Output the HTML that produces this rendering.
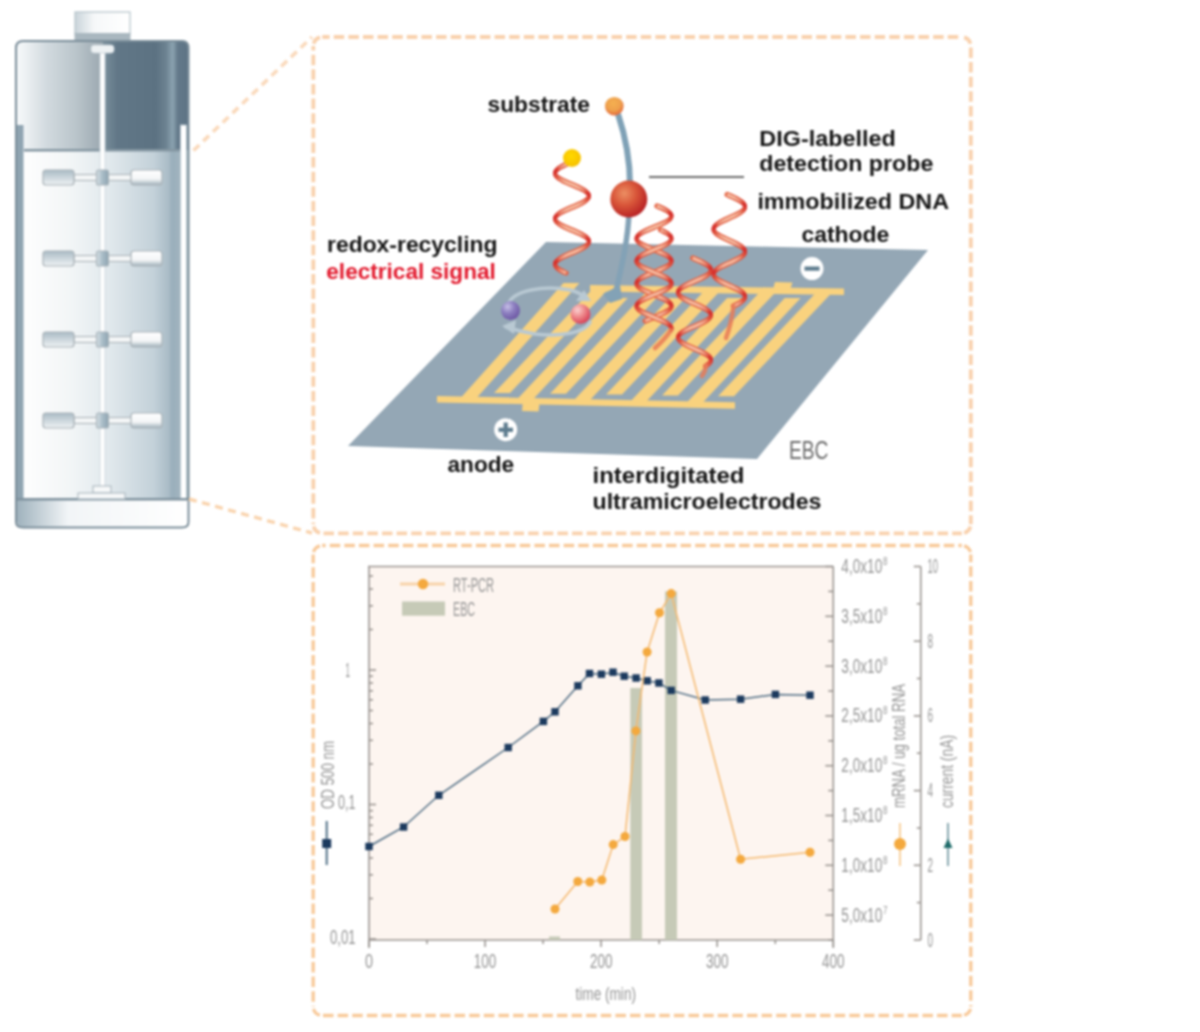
<!DOCTYPE html>
<html><head><meta charset="utf-8"><style>
html,body{margin:0;padding:0;background:#fff;}
body{width:1200px;height:1032px;overflow:hidden;}
svg{display:block;}
#wrap{filter:blur(1px);width:1200px;height:1032px;}
text{font-family:"Liberation Sans",sans-serif;}
</style></head><body><div id="wrap">
<svg width="1200" height="1032" viewBox="0 0 1200 1032">
<defs>
<linearGradient id="headL" x1="0" x2="1" y1="0" y2="0">
 <stop offset="0" stop-color="#f7f9fa"/><stop offset="0.1" stop-color="#eef2f4"/><stop offset="0.35" stop-color="#d2dadf"/><stop offset="0.7" stop-color="#b9c4ca"/><stop offset="1" stop-color="#9aa7af"/>
</linearGradient>
<linearGradient id="headR" x1="0" x2="1" y1="0" y2="0">
 <stop offset="0" stop-color="#7a8f9c"/><stop offset="0.17" stop-color="#617787"/><stop offset="0.62" stop-color="#5c7282"/><stop offset="0.74" stop-color="#6c8291"/><stop offset="0.82" stop-color="#8ba3b0"/><stop offset="0.88" stop-color="#63798a"/><stop offset="1" stop-color="#5d7384"/>
</linearGradient>
<linearGradient id="liq" x1="0" x2="1" y1="0" y2="0">
 <stop offset="0" stop-color="#ffffff"/><stop offset="0.3" stop-color="#f3f6f7"/><stop offset="0.55" stop-color="#e0e8ec"/><stop offset="0.8" stop-color="#c3d1d9"/><stop offset="0.93" stop-color="#9db1bd"/><stop offset="1" stop-color="#a9bbc6"/>
</linearGradient>
<linearGradient id="base" x1="0" x2="1" y1="0" y2="0">
 <stop offset="0" stop-color="#9fb2bd"/><stop offset="0.3" stop-color="#f2f5f7"/><stop offset="1" stop-color="#ffffff"/>
</linearGradient>
<linearGradient id="cap" x1="0" x2="1" y1="0" y2="0">
 <stop offset="0" stop-color="#c9d4da"/><stop offset="0.35" stop-color="#f6f8f9"/><stop offset="1" stop-color="#ffffff"/>
</linearGradient>
<linearGradient id="bladeL" x1="0" x2="0" y1="0" y2="1">
 <stop offset="0" stop-color="#a9bac4"/><stop offset="1" stop-color="#eef2f4"/>
</linearGradient>
<linearGradient id="bladeR" x1="0" x2="0" y1="0" y2="1">
 <stop offset="0" stop-color="#ffffff"/><stop offset="0.6" stop-color="#f4f6f7"/><stop offset="1" stop-color="#9fb0ba"/>
</linearGradient>
<linearGradient id="hub" x1="0" x2="1" y1="0" y2="0">
 <stop offset="0" stop-color="#d5dfe4"/><stop offset="0.5" stop-color="#a9bcc7"/><stop offset="1" stop-color="#8ea4b1"/>
</linearGradient>
<radialGradient id="redball" cx="0.38" cy="0.35" r="0.7">
 <stop offset="0" stop-color="#ec8f63"/><stop offset="0.45" stop-color="#d9573a"/><stop offset="1" stop-color="#b51d22"/>
</radialGradient>
<radialGradient id="subball" cx="0.45" cy="0.35" r="0.65">
 <stop offset="0" stop-color="#f5b050"/><stop offset="0.6" stop-color="#eea04c"/><stop offset="1" stop-color="#e4683c"/>
</radialGradient>
<radialGradient id="yball" cx="0.45" cy="0.4" r="0.6">
 <stop offset="0" stop-color="#ffd800"/><stop offset="1" stop-color="#f7c100"/>
</radialGradient>
<radialGradient id="pball" cx="0.35" cy="0.3" r="0.7">
 <stop offset="0" stop-color="#c6c0e6"/><stop offset="0.5" stop-color="#8d7fc0"/><stop offset="1" stop-color="#6f5aa6"/>
</radialGradient>
<radialGradient id="kball" cx="0.35" cy="0.3" r="0.7">
 <stop offset="0" stop-color="#fbd0d0"/><stop offset="0.5" stop-color="#ee8a8c"/><stop offset="1" stop-color="#d9455a"/>
</radialGradient>
</defs>

<g id="vessel">
<rect x="75" y="12" width="55" height="22" fill="url(#cap)" stroke="#b9c6cd" stroke-width="1.3"/>
<rect x="74.5" y="33" width="56" height="7.5" fill="#a9b7bf"/>
<path d="M16,48 Q16,41 23,41 L103,41 L103,151 L16,151 Z" fill="url(#headL)"/>
<path d="M103,41 L181,41 Q188,41 188,48 L188,151 L103,151 Z" fill="url(#headR)"/>
<rect x="17" y="150" width="171" height="350" fill="url(#liq)"/>
<rect x="170" y="150" width="5" height="350" fill="#8fa7b4" opacity="0.35"/>
<rect x="24" y="149" width="157" height="2.5" fill="#8496a1"/>
<rect x="16.5" y="125" width="7" height="375" fill="#8fa4b1"/>
<rect x="180.5" y="125" width="6" height="375" fill="#ffffff" stroke="#b7c5cd" stroke-width="0.8"/>
<path d="M17,499 L188,499 L188,521 Q188,527 182,527 L23,527 Q17,527 17,521 Z" fill="url(#base)"/>
<rect x="17" y="498" width="171" height="2.5" fill="#7f929e"/>
<path d="M16,522 L16,48 Q16,41 23,41 L182,41 Q188.5,41 188.5,48 L188.5,522 Q188.5,527.5 182,527.5 L23,527.5 Q16,527.5 16,522 Z" fill="none" stroke="#7a8d99" stroke-width="2"/>
<rect x="100" y="46" width="5" height="442" fill="#ffffff" stroke="#c9d3d9" stroke-width="0.8"/>
<rect x="91" y="45" width="23" height="8" rx="3" fill="#eef2f4" stroke="#c7d1d7" stroke-width="0.8"/>
<rect x="93" y="486" width="18" height="7" fill="#f6f8f9" stroke="#a5b2ba" stroke-width="1"/>
<rect x="78" y="493" width="47" height="6" fill="#f6f8f9" stroke="#a5b2ba" stroke-width="1"/>
<rect x="74" y="174.5" width="58" height="6" fill="#f4f6f7" stroke="#aeb6bb" stroke-width="1.1"/>
<rect x="43" y="170.0" width="31" height="15" rx="3" fill="url(#bladeL)" stroke="#a9b2b7" stroke-width="1.2"/>
<rect x="131" y="170.0" width="31" height="15" rx="3" fill="url(#bladeR)" stroke="#a9b2b7" stroke-width="1.2"/>
<rect x="96.5" y="170.0" width="12" height="15" rx="2" fill="url(#hub)" stroke="#a9b4ba" stroke-width="1.1"/>
<rect x="74" y="255.5" width="58" height="6" fill="#f4f6f7" stroke="#aeb6bb" stroke-width="1.1"/>
<rect x="43" y="251.0" width="31" height="15" rx="3" fill="url(#bladeL)" stroke="#a9b2b7" stroke-width="1.2"/>
<rect x="131" y="251.0" width="31" height="15" rx="3" fill="url(#bladeR)" stroke="#a9b2b7" stroke-width="1.2"/>
<rect x="96.5" y="251.0" width="12" height="15" rx="2" fill="url(#hub)" stroke="#a9b4ba" stroke-width="1.1"/>
<rect x="74" y="336.5" width="58" height="6" fill="#f4f6f7" stroke="#aeb6bb" stroke-width="1.1"/>
<rect x="43" y="332.0" width="31" height="15" rx="3" fill="url(#bladeL)" stroke="#a9b2b7" stroke-width="1.2"/>
<rect x="131" y="332.0" width="31" height="15" rx="3" fill="url(#bladeR)" stroke="#a9b2b7" stroke-width="1.2"/>
<rect x="96.5" y="332.0" width="12" height="15" rx="2" fill="url(#hub)" stroke="#a9b4ba" stroke-width="1.1"/>
<rect x="74" y="417.5" width="58" height="6" fill="#f4f6f7" stroke="#aeb6bb" stroke-width="1.1"/>
<rect x="43" y="413.0" width="31" height="15" rx="3" fill="url(#bladeL)" stroke="#a9b2b7" stroke-width="1.2"/>
<rect x="131" y="413.0" width="31" height="15" rx="3" fill="url(#bladeR)" stroke="#a9b2b7" stroke-width="1.2"/>
<rect x="96.5" y="413.0" width="12" height="15" rx="2" fill="url(#hub)" stroke="#a9b4ba" stroke-width="1.1"/>
</g>
<g fill="none" stroke-linecap="butt">
<line x1="193.5" y1="150.5" x2="312" y2="37" stroke="#fad9bb" stroke-width="3.6" stroke-dasharray="8 5.5"/>
<line x1="189" y1="499" x2="312" y2="533" stroke="#f9d3ad" stroke-width="3.4" stroke-dasharray="8 5.5"/>
<line x1="322.3" y1="37.0" x2="961.8" y2="37.0" stroke="#f9d1ad" stroke-width="3.8" stroke-dasharray="10.5 4.12" stroke-dashoffset="3.20"/>
<line x1="970.8" y1="46.0" x2="970.8" y2="524.3" stroke="#f9d1ad" stroke-width="3.8" stroke-dasharray="10.5 4.12" stroke-dashoffset="13.12"/>
<line x1="322.3" y1="533.3" x2="961.8" y2="533.3" stroke="#f9d1ad" stroke-width="3.8" stroke-dasharray="10.5 4.12" stroke-dashoffset="13.42"/>
<line x1="313.3" y1="46.0" x2="313.3" y2="524.3" stroke="#f9d1ad" stroke-width="3.8" stroke-dasharray="10.5 4.12" stroke-dashoffset="5.92"/>
<path d="M313.6,43.7 A9.0,9.0 0 0 1 320.0,37.3" stroke="#f9d1ad" stroke-width="3.8"/>
<path d="M964.1,37.3 A9.0,9.0 0 0 1 970.5,43.7" stroke="#f9d1ad" stroke-width="3.8"/>
<path d="M970.5,526.6 A9.0,9.0 0 0 1 964.1,533.0" stroke="#f9d1ad" stroke-width="3.8"/>
<path d="M320.0,533.0 A9.0,9.0 0 0 1 313.6,526.6" stroke="#f9d1ad" stroke-width="3.8"/>
<line x1="322.2" y1="545.5" x2="961.8" y2="545.5" stroke="#f8c999" stroke-width="3.3" stroke-dasharray="10.5 4.12" stroke-dashoffset="7.10"/>
<line x1="970.8" y1="554.5" x2="970.8" y2="1006.5" stroke="#f8c999" stroke-width="3.3" stroke-dasharray="10.5 4.12" stroke-dashoffset="2.80"/>
<line x1="322.2" y1="1015.5" x2="961.8" y2="1015.5" stroke="#f8c999" stroke-width="3.3" stroke-dasharray="10.5 4.12" stroke-dashoffset="13.82"/>
<line x1="313.2" y1="554.5" x2="313.2" y2="1006.5" stroke="#f8c999" stroke-width="3.3" stroke-dasharray="10.5 4.12" stroke-dashoffset="1.86"/>
<path d="M313.5,552.2 A9.0,9.0 0 0 1 319.9,545.8" stroke="#f8c999" stroke-width="3.3"/>
<path d="M964.1,545.8 A9.0,9.0 0 0 1 970.5,552.2" stroke="#f8c999" stroke-width="3.3"/>
<path d="M970.5,1008.8 A9.0,9.0 0 0 1 964.1,1015.2" stroke="#f8c999" stroke-width="3.3"/>
<path d="M319.9,1015.2 A9.0,9.0 0 0 1 313.5,1008.8" stroke="#f8c999" stroke-width="3.3"/>
</g>
<polygon points="546,242 928,250 757,459 348,446" fill="#94a7b5"/>
<g fill="#f9d27e">
<polygon points="437,396 735,402.3 735,408.7 437,402.4"/>
<polygon points="523,399 540,399.5 538.5,411.5 522,411"/>
<polygon points="590,285 844,288.5 844,295 590,291.5"/>
<polygon points="775,282 792.5,282.5 790,290 773,289.5"/>
<polygon points="459.0,399.8 475.0,399.8 579.5,283.0 563.5,283.0"/>
<polygon points="515.5,401.0 531.5,401.0 627.8,298.0 611.8,298.0"/>
<polygon points="572.0,402.2 588.0,402.2 685.4,298.0 669.4,298.0"/>
<polygon points="628.5,403.4 644.5,403.4 743.1,298.0 727.1,298.0"/>
<polygon points="685.0,404.6 701.0,404.6 800.7,298.0 784.7,298.0"/>
<polygon points="494.0,393.0 510.0,393.0 609.0,288.4 593.0,288.4"/>
<polygon points="550.0,393.8 566.0,393.8 665.0,289.1 649.0,289.1"/>
<polygon points="606.0,394.6 622.0,394.6 721.0,289.9 705.0,289.9"/>
<polygon points="662.0,395.4 678.0,395.4 777.0,290.7 761.0,290.7"/>
<polygon points="718.0,396.2 734.0,396.2 833.0,291.4 817.0,291.4"/>
</g>
<g fill="none" stroke="#b9c9d3" stroke-width="3.5" stroke-linecap="round">
<path d="M508,305 C512,290 545,285 570,290 C578,292 583,295 586,298"/>
<path d="M590,322 C585,333 560,337 535,334 C522,332 512,329 506,327"/>
</g>
<polygon points="591,301 576,301 584,290" fill="#b9c9d3"/>
<polygon points="502,326 516,320 514,334" fill="#b9c9d3"/>
<circle cx="510.5" cy="310.5" r="9.5" fill="url(#pball)"/>
<circle cx="580.5" cy="314" r="10" fill="url(#kball)"/>
<circle cx="505.7" cy="429.7" r="11.5" fill="#ffffff"/>
<rect x="498.5" y="427.7" width="14.5" height="4.2" fill="#5f7d8f"/>
<rect x="503.6" y="422.5" width="4.2" height="14.5" fill="#5f7d8f"/>
<circle cx="812" cy="268.6" r="11.5" fill="#ffffff"/>
<rect x="804.5" y="266.5" width="15" height="4.2" fill="#5f7d8f"/>
<path d="M618,114 C625,135 630,160 630,185" fill="none" stroke="#7fa1b6" stroke-width="6"/>
<path d="M629,212 C628,240 622,265 616,291" fill="none" stroke="#83a2b6" stroke-width="5.5"/>
<polygon points="603,294 620,285 622,299 610,303" fill="#83a2b6"/>
<line x1="567.1" y1="164.0" x2="564.4" y2="165.2" stroke="#e46548" stroke-width="5.3" stroke-linecap="round"/>
<line x1="564.4" y1="165.2" x2="562.0" y2="166.4" stroke="#e26145" stroke-width="5.2" stroke-linecap="round"/>
<line x1="562.0" y1="166.4" x2="559.9" y2="167.6" stroke="#e15a42" stroke-width="5.0" stroke-linecap="round"/>
<line x1="559.9" y1="167.6" x2="558.1" y2="168.8" stroke="#df533e" stroke-width="4.8" stroke-linecap="round"/>
<line x1="558.1" y1="168.8" x2="556.6" y2="170.1" stroke="#dc4a3a" stroke-width="4.6" stroke-linecap="round"/>
<line x1="556.6" y1="170.1" x2="555.6" y2="171.3" stroke="#da4035" stroke-width="4.3" stroke-linecap="round"/>
<line x1="555.6" y1="171.3" x2="555.1" y2="172.5" stroke="#d73630" stroke-width="4.1" stroke-linecap="round"/>
<line x1="555.1" y1="172.5" x2="555.0" y2="173.7" stroke="#d52f2d" stroke-width="3.9" stroke-linecap="round"/>
<line x1="555.0" y1="173.7" x2="555.4" y2="174.9" stroke="#d6332f" stroke-width="4.0" stroke-linecap="round"/>
<line x1="555.4" y1="174.9" x2="556.3" y2="176.1" stroke="#d93e34" stroke-width="4.3" stroke-linecap="round"/>
<line x1="556.3" y1="176.1" x2="557.6" y2="177.3" stroke="#dc4739" stroke-width="4.5" stroke-linecap="round"/>
<line x1="557.6" y1="177.3" x2="559.3" y2="178.5" stroke="#de503d" stroke-width="4.8" stroke-linecap="round"/>
<line x1="559.3" y1="178.5" x2="561.4" y2="179.7" stroke="#e05841" stroke-width="5.0" stroke-linecap="round"/>
<line x1="561.4" y1="179.7" x2="563.7" y2="181.0" stroke="#e25f44" stroke-width="5.1" stroke-linecap="round"/>
<line x1="563.7" y1="181.0" x2="566.3" y2="182.2" stroke="#e36447" stroke-width="5.3" stroke-linecap="round"/>
<line x1="566.3" y1="182.2" x2="569.1" y2="183.4" stroke="#e46849" stroke-width="5.3" stroke-linecap="round"/>
<line x1="569.1" y1="183.4" x2="571.9" y2="184.6" stroke="#e56a4a" stroke-width="5.4" stroke-linecap="round"/>
<line x1="571.9" y1="184.6" x2="574.7" y2="185.8" stroke="#e56a4a" stroke-width="5.4" stroke-linecap="round"/>
<line x1="574.7" y1="185.8" x2="577.5" y2="187.0" stroke="#e46849" stroke-width="5.3" stroke-linecap="round"/>
<line x1="577.5" y1="187.0" x2="580.1" y2="188.2" stroke="#e46447" stroke-width="5.3" stroke-linecap="round"/>
<line x1="580.1" y1="188.2" x2="582.5" y2="189.4" stroke="#e25f45" stroke-width="5.1" stroke-linecap="round"/>
<line x1="582.5" y1="189.4" x2="584.6" y2="190.6" stroke="#e05941" stroke-width="5.0" stroke-linecap="round"/>
<line x1="584.6" y1="190.6" x2="586.3" y2="191.9" stroke="#de513d" stroke-width="4.8" stroke-linecap="round"/>
<line x1="586.3" y1="191.9" x2="587.6" y2="193.1" stroke="#dc4839" stroke-width="4.5" stroke-linecap="round"/>
<line x1="587.6" y1="193.1" x2="588.5" y2="194.3" stroke="#d93e34" stroke-width="4.3" stroke-linecap="round"/>
<line x1="588.5" y1="194.3" x2="589.0" y2="195.5" stroke="#d7342f" stroke-width="4.0" stroke-linecap="round"/>
<line x1="589.0" y1="195.5" x2="588.9" y2="196.7" stroke="#d52f2d" stroke-width="3.9" stroke-linecap="round"/>
<line x1="588.9" y1="196.7" x2="588.4" y2="197.9" stroke="#d73530" stroke-width="4.1" stroke-linecap="round"/>
<line x1="588.4" y1="197.9" x2="587.4" y2="199.1" stroke="#da4035" stroke-width="4.3" stroke-linecap="round"/>
<line x1="587.4" y1="199.1" x2="586.0" y2="200.3" stroke="#dc493a" stroke-width="4.6" stroke-linecap="round"/>
<line x1="586.0" y1="200.3" x2="584.3" y2="201.5" stroke="#df523e" stroke-width="4.8" stroke-linecap="round"/>
<line x1="584.3" y1="201.5" x2="582.1" y2="202.8" stroke="#e15a42" stroke-width="5.0" stroke-linecap="round"/>
<line x1="582.1" y1="202.8" x2="579.7" y2="204.0" stroke="#e26045" stroke-width="5.2" stroke-linecap="round"/>
<line x1="579.7" y1="204.0" x2="577.1" y2="205.2" stroke="#e46548" stroke-width="5.3" stroke-linecap="round"/>
<line x1="577.1" y1="205.2" x2="574.3" y2="206.4" stroke="#e56849" stroke-width="5.4" stroke-linecap="round"/>
<line x1="574.3" y1="206.4" x2="571.5" y2="207.6" stroke="#e56a4a" stroke-width="5.4" stroke-linecap="round"/>
<line x1="571.5" y1="207.6" x2="568.7" y2="208.8" stroke="#e5694a" stroke-width="5.4" stroke-linecap="round"/>
<line x1="568.7" y1="208.8" x2="565.9" y2="210.0" stroke="#e46749" stroke-width="5.3" stroke-linecap="round"/>
<line x1="565.9" y1="210.0" x2="563.4" y2="211.2" stroke="#e36347" stroke-width="5.2" stroke-linecap="round"/>
<line x1="563.4" y1="211.2" x2="561.0" y2="212.4" stroke="#e25e44" stroke-width="5.1" stroke-linecap="round"/>
<line x1="561.0" y1="212.4" x2="559.0" y2="213.7" stroke="#e05741" stroke-width="4.9" stroke-linecap="round"/>
<line x1="559.0" y1="213.7" x2="557.4" y2="214.9" stroke="#de4f3d" stroke-width="4.7" stroke-linecap="round"/>
<line x1="557.4" y1="214.9" x2="556.1" y2="216.1" stroke="#db4638" stroke-width="4.5" stroke-linecap="round"/>
<line x1="556.1" y1="216.1" x2="555.3" y2="217.3" stroke="#d93c33" stroke-width="4.2" stroke-linecap="round"/>
<line x1="555.3" y1="217.3" x2="555.0" y2="218.5" stroke="#d6322e" stroke-width="4.0" stroke-linecap="round"/>
<line x1="555.0" y1="218.5" x2="555.1" y2="219.7" stroke="#d52f2d" stroke-width="3.9" stroke-linecap="round"/>
<line x1="555.1" y1="219.7" x2="555.8" y2="220.9" stroke="#d83831" stroke-width="4.1" stroke-linecap="round"/>
<line x1="555.8" y1="220.9" x2="556.8" y2="222.1" stroke="#da4236" stroke-width="4.4" stroke-linecap="round"/>
<line x1="556.8" y1="222.1" x2="558.3" y2="223.3" stroke="#dd4b3b" stroke-width="4.6" stroke-linecap="round"/>
<line x1="558.3" y1="223.3" x2="560.2" y2="224.6" stroke="#df543f" stroke-width="4.8" stroke-linecap="round"/>
<line x1="560.2" y1="224.6" x2="562.4" y2="225.8" stroke="#e15b43" stroke-width="5.0" stroke-linecap="round"/>
<line x1="562.4" y1="225.8" x2="564.8" y2="227.0" stroke="#e36146" stroke-width="5.2" stroke-linecap="round"/>
<line x1="564.8" y1="227.0" x2="567.5" y2="228.2" stroke="#e46648" stroke-width="5.3" stroke-linecap="round"/>
<line x1="567.5" y1="228.2" x2="570.3" y2="229.4" stroke="#e56949" stroke-width="5.4" stroke-linecap="round"/>
<line x1="570.3" y1="229.4" x2="573.1" y2="230.6" stroke="#e56a4a" stroke-width="5.4" stroke-linecap="round"/>
<line x1="573.1" y1="230.6" x2="575.9" y2="231.8" stroke="#e5694a" stroke-width="5.4" stroke-linecap="round"/>
<line x1="575.9" y1="231.8" x2="578.6" y2="233.0" stroke="#e46748" stroke-width="5.3" stroke-linecap="round"/>
<line x1="578.6" y1="233.0" x2="581.2" y2="234.2" stroke="#e36246" stroke-width="5.2" stroke-linecap="round"/>
<line x1="581.2" y1="234.2" x2="583.4" y2="235.5" stroke="#e15d43" stroke-width="5.1" stroke-linecap="round"/>
<line x1="583.4" y1="235.5" x2="585.4" y2="236.7" stroke="#e05640" stroke-width="4.9" stroke-linecap="round"/>
<line x1="585.4" y1="236.7" x2="586.9" y2="237.9" stroke="#dd4d3c" stroke-width="4.7" stroke-linecap="round"/>
<line x1="586.9" y1="237.9" x2="588.1" y2="239.1" stroke="#db4437" stroke-width="4.4" stroke-linecap="round"/>
<line x1="588.1" y1="239.1" x2="588.8" y2="240.3" stroke="#d83a32" stroke-width="4.2" stroke-linecap="round"/>
<line x1="588.8" y1="240.3" x2="589.0" y2="241.5" stroke="#d52f2d" stroke-width="3.9" stroke-linecap="round"/>
<line x1="589.0" y1="241.5" x2="588.8" y2="242.7" stroke="#d52f2d" stroke-width="3.9" stroke-linecap="round"/>
<line x1="588.8" y1="242.7" x2="588.0" y2="243.9" stroke="#d83a32" stroke-width="4.2" stroke-linecap="round"/>
<line x1="588.0" y1="243.9" x2="586.9" y2="245.1" stroke="#db4437" stroke-width="4.4" stroke-linecap="round"/>
<line x1="586.9" y1="245.1" x2="585.3" y2="246.4" stroke="#dd4d3c" stroke-width="4.7" stroke-linecap="round"/>
<line x1="585.3" y1="246.4" x2="583.4" y2="247.6" stroke="#e05640" stroke-width="4.9" stroke-linecap="round"/>
<line x1="583.4" y1="247.6" x2="581.1" y2="248.8" stroke="#e15d43" stroke-width="5.1" stroke-linecap="round"/>
<line x1="581.1" y1="248.8" x2="578.6" y2="250.0" stroke="#e36346" stroke-width="5.2" stroke-linecap="round"/>
<line x1="578.6" y1="250.0" x2="575.9" y2="251.2" stroke="#e46748" stroke-width="5.3" stroke-linecap="round"/>
<line x1="575.9" y1="251.2" x2="573.1" y2="252.4" stroke="#e5694a" stroke-width="5.4" stroke-linecap="round"/>
<line x1="573.1" y1="252.4" x2="570.2" y2="253.6" stroke="#e56a4a" stroke-width="5.4" stroke-linecap="round"/>
<line x1="570.2" y1="253.6" x2="567.5" y2="254.8" stroke="#e56949" stroke-width="5.4" stroke-linecap="round"/>
<line x1="567.5" y1="254.8" x2="564.8" y2="256.0" stroke="#e46648" stroke-width="5.3" stroke-linecap="round"/>
<line x1="564.8" y1="256.0" x2="562.3" y2="257.3" stroke="#e36146" stroke-width="5.2" stroke-linecap="round"/>
<line x1="562.3" y1="257.3" x2="560.1" y2="258.5" stroke="#e15b43" stroke-width="5.0" stroke-linecap="round"/>
<line x1="560.1" y1="258.5" x2="558.3" y2="259.7" stroke="#df543f" stroke-width="4.8" stroke-linecap="round"/>
<line x1="558.3" y1="259.7" x2="556.8" y2="260.9" stroke="#dd4b3b" stroke-width="4.6" stroke-linecap="round"/>
<line x1="556.8" y1="260.9" x2="555.7" y2="262.1" stroke="#da4236" stroke-width="4.4" stroke-linecap="round"/>
<line x1="555.7" y1="262.1" x2="555.1" y2="263.3" stroke="#d83731" stroke-width="4.1" stroke-linecap="round"/>
<line x1="555.1" y1="263.3" x2="555.0" y2="264.5" stroke="#d52f2d" stroke-width="3.9" stroke-linecap="round"/>
<line x1="555.0" y1="264.5" x2="555.4" y2="265.7" stroke="#d6322e" stroke-width="4.0" stroke-linecap="round"/>
<line x1="555.4" y1="265.7" x2="556.2" y2="266.9" stroke="#d93c33" stroke-width="4.2" stroke-linecap="round"/>
<line x1="556.2" y1="266.9" x2="557.4" y2="268.2" stroke="#db4638" stroke-width="4.5" stroke-linecap="round"/>
<line x1="557.4" y1="268.2" x2="559.1" y2="269.4" stroke="#de4f3d" stroke-width="4.7" stroke-linecap="round"/>
<line x1="559.1" y1="269.4" x2="561.1" y2="270.6" stroke="#e05741" stroke-width="4.9" stroke-linecap="round"/>
<line x1="561.1" y1="270.6" x2="563.4" y2="271.8" stroke="#e25e44" stroke-width="5.1" stroke-linecap="round"/>
<line x1="563.4" y1="271.8" x2="566.0" y2="273.0" stroke="#e36447" stroke-width="5.2" stroke-linecap="round"/>
<line x1="567.1" y1="164.0" x2="564.4" y2="165.2" stroke="#f7cdb5" stroke-width="2.6" stroke-opacity="0.85"/>
<line x1="564.4" y1="165.2" x2="562.0" y2="166.4" stroke="#f7cdb5" stroke-width="2.6" stroke-opacity="0.70"/>
<line x1="562.0" y1="166.4" x2="559.9" y2="167.6" stroke="#f7cdb5" stroke-width="2.5" stroke-opacity="0.51"/>
<line x1="559.9" y1="167.6" x2="558.1" y2="168.8" stroke="#f7cdb5" stroke-width="2.4" stroke-opacity="0.27"/>
<line x1="557.6" y1="177.3" x2="559.3" y2="178.5" stroke="#f7cdb5" stroke-width="2.4" stroke-opacity="0.20"/>
<line x1="559.3" y1="178.5" x2="561.4" y2="179.7" stroke="#f7cdb5" stroke-width="2.5" stroke-opacity="0.45"/>
<line x1="561.4" y1="179.7" x2="563.7" y2="181.0" stroke="#f7cdb5" stroke-width="2.6" stroke-opacity="0.66"/>
<line x1="563.7" y1="181.0" x2="566.3" y2="182.2" stroke="#f7cdb5" stroke-width="2.6" stroke-opacity="0.82"/>
<line x1="566.3" y1="182.2" x2="569.1" y2="183.4" stroke="#f7cdb5" stroke-width="2.7" stroke-opacity="0.90"/>
<line x1="569.1" y1="183.4" x2="571.9" y2="184.6" stroke="#f7cdb5" stroke-width="2.7" stroke-opacity="0.90"/>
<line x1="571.9" y1="184.6" x2="574.7" y2="185.8" stroke="#f7cdb5" stroke-width="2.7" stroke-opacity="0.90"/>
<line x1="574.7" y1="185.8" x2="577.5" y2="187.0" stroke="#f7cdb5" stroke-width="2.7" stroke-opacity="0.90"/>
<line x1="577.5" y1="187.0" x2="580.1" y2="188.2" stroke="#f7cdb5" stroke-width="2.6" stroke-opacity="0.83"/>
<line x1="580.1" y1="188.2" x2="582.5" y2="189.4" stroke="#f7cdb5" stroke-width="2.6" stroke-opacity="0.67"/>
<line x1="582.5" y1="189.4" x2="584.6" y2="190.6" stroke="#f7cdb5" stroke-width="2.5" stroke-opacity="0.46"/>
<line x1="584.6" y1="190.6" x2="586.3" y2="191.9" stroke="#f7cdb5" stroke-width="2.4" stroke-opacity="0.22"/>
<line x1="586.0" y1="200.3" x2="584.3" y2="201.5" stroke="#f7cdb5" stroke-width="2.4" stroke-opacity="0.26"/>
<line x1="584.3" y1="201.5" x2="582.1" y2="202.8" stroke="#f7cdb5" stroke-width="2.5" stroke-opacity="0.50"/>
<line x1="582.1" y1="202.8" x2="579.7" y2="204.0" stroke="#f7cdb5" stroke-width="2.6" stroke-opacity="0.69"/>
<line x1="579.7" y1="204.0" x2="577.1" y2="205.2" stroke="#f7cdb5" stroke-width="2.6" stroke-opacity="0.85"/>
<line x1="577.1" y1="205.2" x2="574.3" y2="206.4" stroke="#f7cdb5" stroke-width="2.7" stroke-opacity="0.90"/>
<line x1="574.3" y1="206.4" x2="571.5" y2="207.6" stroke="#f7cdb5" stroke-width="2.7" stroke-opacity="0.90"/>
<line x1="571.5" y1="207.6" x2="568.7" y2="208.8" stroke="#f7cdb5" stroke-width="2.7" stroke-opacity="0.90"/>
<line x1="568.7" y1="208.8" x2="565.9" y2="210.0" stroke="#f7cdb5" stroke-width="2.7" stroke-opacity="0.90"/>
<line x1="565.9" y1="210.0" x2="563.4" y2="211.2" stroke="#f7cdb5" stroke-width="2.6" stroke-opacity="0.80"/>
<line x1="563.4" y1="211.2" x2="561.0" y2="212.4" stroke="#f7cdb5" stroke-width="2.5" stroke-opacity="0.63"/>
<line x1="561.0" y1="212.4" x2="559.0" y2="213.7" stroke="#f7cdb5" stroke-width="2.5" stroke-opacity="0.41"/>
<line x1="559.0" y1="213.7" x2="557.4" y2="214.9" stroke="#f7cdb5" stroke-width="2.4" stroke-opacity="0.16"/>
<line x1="556.8" y1="222.1" x2="558.3" y2="223.3" stroke="#f7cdb5" stroke-width="2.3" stroke-opacity="0.04"/>
<line x1="558.3" y1="223.3" x2="560.2" y2="224.6" stroke="#f7cdb5" stroke-width="2.4" stroke-opacity="0.31"/>
<line x1="560.2" y1="224.6" x2="562.4" y2="225.8" stroke="#f7cdb5" stroke-width="2.5" stroke-opacity="0.54"/>
<line x1="562.4" y1="225.8" x2="564.8" y2="227.0" stroke="#f7cdb5" stroke-width="2.6" stroke-opacity="0.73"/>
<line x1="564.8" y1="227.0" x2="567.5" y2="228.2" stroke="#f7cdb5" stroke-width="2.6" stroke-opacity="0.87"/>
<line x1="567.5" y1="228.2" x2="570.3" y2="229.4" stroke="#f7cdb5" stroke-width="2.7" stroke-opacity="0.90"/>
<line x1="570.3" y1="229.4" x2="573.1" y2="230.6" stroke="#f7cdb5" stroke-width="2.7" stroke-opacity="0.90"/>
<line x1="573.1" y1="230.6" x2="575.9" y2="231.8" stroke="#f7cdb5" stroke-width="2.7" stroke-opacity="0.90"/>
<line x1="575.9" y1="231.8" x2="578.6" y2="233.0" stroke="#f7cdb5" stroke-width="2.7" stroke-opacity="0.89"/>
<line x1="578.6" y1="233.0" x2="581.2" y2="234.2" stroke="#f7cdb5" stroke-width="2.6" stroke-opacity="0.76"/>
<line x1="581.2" y1="234.2" x2="583.4" y2="235.5" stroke="#f7cdb5" stroke-width="2.5" stroke-opacity="0.58"/>
<line x1="583.4" y1="235.5" x2="585.4" y2="236.7" stroke="#f7cdb5" stroke-width="2.4" stroke-opacity="0.36"/>
<line x1="585.4" y1="236.7" x2="586.9" y2="237.9" stroke="#f7cdb5" stroke-width="2.3" stroke-opacity="0.10"/>
<line x1="586.9" y1="245.1" x2="585.3" y2="246.4" stroke="#f7cdb5" stroke-width="2.3" stroke-opacity="0.10"/>
<line x1="585.3" y1="246.4" x2="583.4" y2="247.6" stroke="#f7cdb5" stroke-width="2.4" stroke-opacity="0.36"/>
<line x1="583.4" y1="247.6" x2="581.1" y2="248.8" stroke="#f7cdb5" stroke-width="2.5" stroke-opacity="0.59"/>
<line x1="581.1" y1="248.8" x2="578.6" y2="250.0" stroke="#f7cdb5" stroke-width="2.6" stroke-opacity="0.77"/>
<line x1="578.6" y1="250.0" x2="575.9" y2="251.2" stroke="#f7cdb5" stroke-width="2.7" stroke-opacity="0.89"/>
<line x1="575.9" y1="251.2" x2="573.1" y2="252.4" stroke="#f7cdb5" stroke-width="2.7" stroke-opacity="0.90"/>
<line x1="573.1" y1="252.4" x2="570.2" y2="253.6" stroke="#f7cdb5" stroke-width="2.7" stroke-opacity="0.90"/>
<line x1="570.2" y1="253.6" x2="567.5" y2="254.8" stroke="#f7cdb5" stroke-width="2.7" stroke-opacity="0.90"/>
<line x1="567.5" y1="254.8" x2="564.8" y2="256.0" stroke="#f7cdb5" stroke-width="2.6" stroke-opacity="0.87"/>
<line x1="564.8" y1="256.0" x2="562.3" y2="257.3" stroke="#f7cdb5" stroke-width="2.6" stroke-opacity="0.73"/>
<line x1="562.3" y1="257.3" x2="560.1" y2="258.5" stroke="#f7cdb5" stroke-width="2.5" stroke-opacity="0.54"/>
<line x1="560.1" y1="258.5" x2="558.3" y2="259.7" stroke="#f7cdb5" stroke-width="2.4" stroke-opacity="0.31"/>
<line x1="558.3" y1="259.7" x2="556.8" y2="260.9" stroke="#f7cdb5" stroke-width="2.3" stroke-opacity="0.04"/>
<line x1="557.4" y1="268.2" x2="559.1" y2="269.4" stroke="#f7cdb5" stroke-width="2.4" stroke-opacity="0.16"/>
<line x1="559.1" y1="269.4" x2="561.1" y2="270.6" stroke="#f7cdb5" stroke-width="2.5" stroke-opacity="0.42"/>
<line x1="561.1" y1="270.6" x2="563.4" y2="271.8" stroke="#f7cdb5" stroke-width="2.6" stroke-opacity="0.63"/>
<line x1="563.4" y1="271.8" x2="566.0" y2="273.0" stroke="#f7cdb5" stroke-width="2.6" stroke-opacity="0.80"/>
<line x1="657.0" y1="206.0" x2="659.9" y2="207.2" stroke="#e46849" stroke-width="5.3" stroke-linecap="round"/>
<line x1="659.9" y1="207.2" x2="662.6" y2="208.4" stroke="#e36447" stroke-width="5.2" stroke-linecap="round"/>
<line x1="662.6" y1="208.4" x2="665.0" y2="209.6" stroke="#e25f44" stroke-width="5.1" stroke-linecap="round"/>
<line x1="665.0" y1="209.6" x2="667.2" y2="210.8" stroke="#e05841" stroke-width="4.9" stroke-linecap="round"/>
<line x1="667.2" y1="210.8" x2="668.9" y2="212.1" stroke="#de503d" stroke-width="4.7" stroke-linecap="round"/>
<line x1="668.9" y1="212.1" x2="670.2" y2="213.3" stroke="#dc4738" stroke-width="4.5" stroke-linecap="round"/>
<line x1="670.2" y1="213.3" x2="671.1" y2="214.5" stroke="#d93d33" stroke-width="4.3" stroke-linecap="round"/>
<line x1="671.1" y1="214.5" x2="671.5" y2="215.7" stroke="#d6322e" stroke-width="4.0" stroke-linecap="round"/>
<line x1="671.5" y1="215.7" x2="671.4" y2="216.9" stroke="#d52f2d" stroke-width="3.9" stroke-linecap="round"/>
<line x1="671.4" y1="216.9" x2="670.7" y2="218.1" stroke="#d83731" stroke-width="4.1" stroke-linecap="round"/>
<line x1="670.7" y1="218.1" x2="669.7" y2="219.3" stroke="#da4236" stroke-width="4.4" stroke-linecap="round"/>
<line x1="669.7" y1="219.3" x2="668.1" y2="220.5" stroke="#dd4b3b" stroke-width="4.6" stroke-linecap="round"/>
<line x1="668.1" y1="220.5" x2="666.2" y2="221.7" stroke="#df543f" stroke-width="4.8" stroke-linecap="round"/>
<line x1="666.2" y1="221.7" x2="663.9" y2="222.9" stroke="#e15b43" stroke-width="5.0" stroke-linecap="round"/>
<line x1="663.9" y1="222.9" x2="661.3" y2="224.2" stroke="#e36146" stroke-width="5.2" stroke-linecap="round"/>
<line x1="661.3" y1="224.2" x2="658.5" y2="225.4" stroke="#e46648" stroke-width="5.3" stroke-linecap="round"/>
<line x1="658.5" y1="225.4" x2="655.6" y2="226.6" stroke="#e56949" stroke-width="5.4" stroke-linecap="round"/>
<line x1="655.6" y1="226.6" x2="652.7" y2="227.8" stroke="#e56a4a" stroke-width="5.4" stroke-linecap="round"/>
<line x1="652.7" y1="227.8" x2="649.8" y2="229.0" stroke="#e56949" stroke-width="5.4" stroke-linecap="round"/>
<line x1="649.8" y1="229.0" x2="647.0" y2="230.2" stroke="#e46648" stroke-width="5.3" stroke-linecap="round"/>
<line x1="647.0" y1="230.2" x2="644.4" y2="231.4" stroke="#e36246" stroke-width="5.2" stroke-linecap="round"/>
<line x1="644.4" y1="231.4" x2="642.1" y2="232.6" stroke="#e15c43" stroke-width="5.0" stroke-linecap="round"/>
<line x1="642.1" y1="232.6" x2="640.1" y2="233.8" stroke="#df553f" stroke-width="4.9" stroke-linecap="round"/>
<line x1="640.1" y1="233.8" x2="638.5" y2="235.1" stroke="#dd4c3b" stroke-width="4.6" stroke-linecap="round"/>
<line x1="638.5" y1="235.1" x2="637.3" y2="236.3" stroke="#db4336" stroke-width="4.4" stroke-linecap="round"/>
<line x1="637.3" y1="236.3" x2="636.7" y2="237.5" stroke="#d83831" stroke-width="4.1" stroke-linecap="round"/>
<line x1="636.7" y1="237.5" x2="636.5" y2="238.7" stroke="#d52f2d" stroke-width="3.9" stroke-linecap="round"/>
<line x1="636.5" y1="238.7" x2="636.8" y2="239.9" stroke="#d6312e" stroke-width="4.0" stroke-linecap="round"/>
<line x1="636.8" y1="239.9" x2="637.6" y2="241.1" stroke="#d93c33" stroke-width="4.2" stroke-linecap="round"/>
<line x1="637.6" y1="241.1" x2="638.9" y2="242.3" stroke="#db4638" stroke-width="4.5" stroke-linecap="round"/>
<line x1="638.9" y1="242.3" x2="640.6" y2="243.5" stroke="#de4f3c" stroke-width="4.7" stroke-linecap="round"/>
<line x1="640.6" y1="243.5" x2="642.7" y2="244.7" stroke="#e05741" stroke-width="4.9" stroke-linecap="round"/>
<line x1="642.7" y1="244.7" x2="645.1" y2="245.9" stroke="#e25e44" stroke-width="5.1" stroke-linecap="round"/>
<line x1="645.1" y1="245.9" x2="647.8" y2="247.2" stroke="#e36447" stroke-width="5.2" stroke-linecap="round"/>
<line x1="647.8" y1="247.2" x2="650.6" y2="248.4" stroke="#e46749" stroke-width="5.3" stroke-linecap="round"/>
<line x1="650.6" y1="248.4" x2="653.6" y2="249.6" stroke="#e5694a" stroke-width="5.4" stroke-linecap="round"/>
<line x1="653.6" y1="249.6" x2="656.5" y2="250.8" stroke="#e56a4a" stroke-width="5.4" stroke-linecap="round"/>
<line x1="656.5" y1="250.8" x2="659.4" y2="252.0" stroke="#e46849" stroke-width="5.4" stroke-linecap="round"/>
<line x1="659.4" y1="252.0" x2="662.1" y2="253.2" stroke="#e46547" stroke-width="5.3" stroke-linecap="round"/>
<line x1="662.1" y1="253.2" x2="664.6" y2="254.4" stroke="#e26045" stroke-width="5.1" stroke-linecap="round"/>
<line x1="664.6" y1="254.4" x2="666.8" y2="255.6" stroke="#e15942" stroke-width="5.0" stroke-linecap="round"/>
<line x1="666.8" y1="255.6" x2="668.6" y2="256.8" stroke="#de513e" stroke-width="4.8" stroke-linecap="round"/>
<line x1="668.6" y1="256.8" x2="670.0" y2="258.1" stroke="#dc4839" stroke-width="4.5" stroke-linecap="round"/>
<line x1="670.0" y1="258.1" x2="671.0" y2="259.3" stroke="#d93e34" stroke-width="4.3" stroke-linecap="round"/>
<line x1="671.0" y1="259.3" x2="671.5" y2="260.5" stroke="#d7342f" stroke-width="4.0" stroke-linecap="round"/>
<line x1="671.5" y1="260.5" x2="671.4" y2="261.7" stroke="#d52f2d" stroke-width="3.9" stroke-linecap="round"/>
<line x1="671.4" y1="261.7" x2="670.9" y2="262.9" stroke="#d73530" stroke-width="4.1" stroke-linecap="round"/>
<line x1="670.9" y1="262.9" x2="669.9" y2="264.1" stroke="#da4035" stroke-width="4.3" stroke-linecap="round"/>
<line x1="669.9" y1="264.1" x2="668.4" y2="265.3" stroke="#dc4a3a" stroke-width="4.6" stroke-linecap="round"/>
<line x1="668.4" y1="265.3" x2="666.5" y2="266.5" stroke="#df523e" stroke-width="4.8" stroke-linecap="round"/>
<line x1="666.5" y1="266.5" x2="664.3" y2="267.7" stroke="#e15a42" stroke-width="5.0" stroke-linecap="round"/>
<line x1="664.3" y1="267.7" x2="661.8" y2="268.9" stroke="#e26145" stroke-width="5.2" stroke-linecap="round"/>
<line x1="661.8" y1="268.9" x2="659.0" y2="270.2" stroke="#e46548" stroke-width="5.3" stroke-linecap="round"/>
<line x1="659.0" y1="270.2" x2="656.1" y2="271.4" stroke="#e56849" stroke-width="5.4" stroke-linecap="round"/>
<line x1="656.1" y1="271.4" x2="653.2" y2="272.6" stroke="#e56a4a" stroke-width="5.4" stroke-linecap="round"/>
<line x1="653.2" y1="272.6" x2="650.3" y2="273.8" stroke="#e5694a" stroke-width="5.4" stroke-linecap="round"/>
<line x1="650.3" y1="273.8" x2="647.4" y2="275.0" stroke="#e46748" stroke-width="5.3" stroke-linecap="round"/>
<line x1="647.4" y1="275.0" x2="644.8" y2="276.2" stroke="#e36346" stroke-width="5.2" stroke-linecap="round"/>
<line x1="644.8" y1="276.2" x2="642.4" y2="277.4" stroke="#e25d44" stroke-width="5.1" stroke-linecap="round"/>
<line x1="642.4" y1="277.4" x2="640.4" y2="278.6" stroke="#e05640" stroke-width="4.9" stroke-linecap="round"/>
<line x1="640.4" y1="278.6" x2="638.7" y2="279.8" stroke="#dd4e3c" stroke-width="4.7" stroke-linecap="round"/>
<line x1="638.7" y1="279.8" x2="637.5" y2="281.1" stroke="#db4437" stroke-width="4.4" stroke-linecap="round"/>
<line x1="637.5" y1="281.1" x2="636.8" y2="282.3" stroke="#d83a32" stroke-width="4.2" stroke-linecap="round"/>
<line x1="636.8" y1="282.3" x2="636.5" y2="283.5" stroke="#d5302d" stroke-width="3.9" stroke-linecap="round"/>
<line x1="636.5" y1="283.5" x2="636.7" y2="284.7" stroke="#d52f2d" stroke-width="3.9" stroke-linecap="round"/>
<line x1="636.7" y1="284.7" x2="637.5" y2="285.9" stroke="#d83a32" stroke-width="4.2" stroke-linecap="round"/>
<line x1="637.5" y1="285.9" x2="638.7" y2="287.1" stroke="#db4437" stroke-width="4.4" stroke-linecap="round"/>
<line x1="638.7" y1="287.1" x2="640.3" y2="288.3" stroke="#dd4d3c" stroke-width="4.7" stroke-linecap="round"/>
<line x1="640.3" y1="288.3" x2="642.3" y2="289.5" stroke="#e05640" stroke-width="4.9" stroke-linecap="round"/>
<line x1="642.3" y1="289.5" x2="644.7" y2="290.7" stroke="#e25d43" stroke-width="5.1" stroke-linecap="round"/>
<line x1="644.7" y1="290.7" x2="647.3" y2="291.9" stroke="#e36346" stroke-width="5.2" stroke-linecap="round"/>
<line x1="647.3" y1="291.9" x2="650.1" y2="293.2" stroke="#e46748" stroke-width="5.3" stroke-linecap="round"/>
<line x1="650.1" y1="293.2" x2="653.1" y2="294.4" stroke="#e5694a" stroke-width="5.4" stroke-linecap="round"/>
<line x1="653.1" y1="294.4" x2="656.0" y2="295.6" stroke="#e56a4a" stroke-width="5.4" stroke-linecap="round"/>
<line x1="656.0" y1="295.6" x2="658.9" y2="296.8" stroke="#e56849" stroke-width="5.4" stroke-linecap="round"/>
<line x1="658.9" y1="296.8" x2="661.7" y2="298.0" stroke="#e46548" stroke-width="5.3" stroke-linecap="round"/>
<line x1="661.7" y1="298.0" x2="664.2" y2="299.2" stroke="#e36145" stroke-width="5.2" stroke-linecap="round"/>
<line x1="664.2" y1="299.2" x2="666.5" y2="300.4" stroke="#e15a42" stroke-width="5.0" stroke-linecap="round"/>
<line x1="666.5" y1="300.4" x2="668.3" y2="301.6" stroke="#df533e" stroke-width="4.8" stroke-linecap="round"/>
<line x1="668.3" y1="301.6" x2="669.8" y2="302.8" stroke="#dc4a3a" stroke-width="4.6" stroke-linecap="round"/>
<line x1="669.8" y1="302.8" x2="670.9" y2="304.1" stroke="#da4035" stroke-width="4.3" stroke-linecap="round"/>
<line x1="670.9" y1="304.1" x2="671.4" y2="305.3" stroke="#d73630" stroke-width="4.1" stroke-linecap="round"/>
<line x1="671.4" y1="305.3" x2="671.5" y2="306.5" stroke="#d52f2d" stroke-width="3.9" stroke-linecap="round"/>
<line x1="671.5" y1="306.5" x2="671.0" y2="307.7" stroke="#d7342f" stroke-width="4.0" stroke-linecap="round"/>
<line x1="671.0" y1="307.7" x2="670.1" y2="308.9" stroke="#d93e34" stroke-width="4.3" stroke-linecap="round"/>
<line x1="670.1" y1="308.9" x2="668.7" y2="310.1" stroke="#dc4839" stroke-width="4.5" stroke-linecap="round"/>
<line x1="668.7" y1="310.1" x2="666.9" y2="311.3" stroke="#de513d" stroke-width="4.8" stroke-linecap="round"/>
<line x1="666.9" y1="311.3" x2="664.7" y2="312.5" stroke="#e05941" stroke-width="5.0" stroke-linecap="round"/>
<line x1="664.7" y1="312.5" x2="662.2" y2="313.7" stroke="#e26045" stroke-width="5.1" stroke-linecap="round"/>
<line x1="662.2" y1="313.7" x2="659.5" y2="314.9" stroke="#e46547" stroke-width="5.3" stroke-linecap="round"/>
<line x1="659.5" y1="314.9" x2="656.7" y2="316.2" stroke="#e46849" stroke-width="5.3" stroke-linecap="round"/>
<line x1="656.7" y1="316.2" x2="653.7" y2="317.4" stroke="#e56a4a" stroke-width="5.4" stroke-linecap="round"/>
<line x1="653.7" y1="317.4" x2="650.8" y2="318.6" stroke="#e5694a" stroke-width="5.4" stroke-linecap="round"/>
<line x1="650.8" y1="318.6" x2="647.9" y2="319.8" stroke="#e46749" stroke-width="5.3" stroke-linecap="round"/>
<line x1="647.9" y1="319.8" x2="645.2" y2="321.0" stroke="#e36447" stroke-width="5.2" stroke-linecap="round"/>
<line x1="657.0" y1="206.0" x2="659.9" y2="207.2" stroke="#f7cdb5" stroke-width="2.7" stroke-opacity="0.90"/>
<line x1="659.9" y1="207.2" x2="662.6" y2="208.4" stroke="#f7cdb5" stroke-width="2.6" stroke-opacity="0.81"/>
<line x1="662.6" y1="208.4" x2="665.0" y2="209.6" stroke="#f7cdb5" stroke-width="2.6" stroke-opacity="0.65"/>
<line x1="665.0" y1="209.6" x2="667.2" y2="210.8" stroke="#f7cdb5" stroke-width="2.5" stroke-opacity="0.44"/>
<line x1="667.2" y1="210.8" x2="668.9" y2="212.1" stroke="#f7cdb5" stroke-width="2.4" stroke-opacity="0.18"/>
<line x1="669.7" y1="219.3" x2="668.1" y2="220.5" stroke="#f7cdb5" stroke-width="2.3" stroke-opacity="0.04"/>
<line x1="668.1" y1="220.5" x2="666.2" y2="221.7" stroke="#f7cdb5" stroke-width="2.4" stroke-opacity="0.31"/>
<line x1="666.2" y1="221.7" x2="663.9" y2="222.9" stroke="#f7cdb5" stroke-width="2.5" stroke-opacity="0.54"/>
<line x1="663.9" y1="222.9" x2="661.3" y2="224.2" stroke="#f7cdb5" stroke-width="2.6" stroke-opacity="0.73"/>
<line x1="661.3" y1="224.2" x2="658.5" y2="225.4" stroke="#f7cdb5" stroke-width="2.6" stroke-opacity="0.87"/>
<line x1="658.5" y1="225.4" x2="655.6" y2="226.6" stroke="#f7cdb5" stroke-width="2.7" stroke-opacity="0.90"/>
<line x1="655.6" y1="226.6" x2="652.7" y2="227.8" stroke="#f7cdb5" stroke-width="2.7" stroke-opacity="0.90"/>
<line x1="652.7" y1="227.8" x2="649.8" y2="229.0" stroke="#f7cdb5" stroke-width="2.7" stroke-opacity="0.90"/>
<line x1="649.8" y1="229.0" x2="647.0" y2="230.2" stroke="#f7cdb5" stroke-width="2.7" stroke-opacity="0.89"/>
<line x1="647.0" y1="230.2" x2="644.4" y2="231.4" stroke="#f7cdb5" stroke-width="2.6" stroke-opacity="0.75"/>
<line x1="644.4" y1="231.4" x2="642.1" y2="232.6" stroke="#f7cdb5" stroke-width="2.5" stroke-opacity="0.57"/>
<line x1="642.1" y1="232.6" x2="640.1" y2="233.8" stroke="#f7cdb5" stroke-width="2.4" stroke-opacity="0.34"/>
<line x1="640.1" y1="233.8" x2="638.5" y2="235.1" stroke="#f7cdb5" stroke-width="2.3" stroke-opacity="0.07"/>
<line x1="638.9" y1="242.3" x2="640.6" y2="243.5" stroke="#f7cdb5" stroke-width="2.4" stroke-opacity="0.15"/>
<line x1="640.6" y1="243.5" x2="642.7" y2="244.7" stroke="#f7cdb5" stroke-width="2.5" stroke-opacity="0.41"/>
<line x1="642.7" y1="244.7" x2="645.1" y2="245.9" stroke="#f7cdb5" stroke-width="2.5" stroke-opacity="0.63"/>
<line x1="645.1" y1="245.9" x2="647.8" y2="247.2" stroke="#f7cdb5" stroke-width="2.6" stroke-opacity="0.80"/>
<line x1="647.8" y1="247.2" x2="650.6" y2="248.4" stroke="#f7cdb5" stroke-width="2.7" stroke-opacity="0.90"/>
<line x1="650.6" y1="248.4" x2="653.6" y2="249.6" stroke="#f7cdb5" stroke-width="2.7" stroke-opacity="0.90"/>
<line x1="653.6" y1="249.6" x2="656.5" y2="250.8" stroke="#f7cdb5" stroke-width="2.7" stroke-opacity="0.90"/>
<line x1="656.5" y1="250.8" x2="659.4" y2="252.0" stroke="#f7cdb5" stroke-width="2.7" stroke-opacity="0.90"/>
<line x1="659.4" y1="252.0" x2="662.1" y2="253.2" stroke="#f7cdb5" stroke-width="2.6" stroke-opacity="0.84"/>
<line x1="662.1" y1="253.2" x2="664.6" y2="254.4" stroke="#f7cdb5" stroke-width="2.6" stroke-opacity="0.68"/>
<line x1="664.6" y1="254.4" x2="666.8" y2="255.6" stroke="#f7cdb5" stroke-width="2.5" stroke-opacity="0.48"/>
<line x1="666.8" y1="255.6" x2="668.6" y2="256.8" stroke="#f7cdb5" stroke-width="2.4" stroke-opacity="0.23"/>
<line x1="668.4" y1="265.3" x2="666.5" y2="266.5" stroke="#f7cdb5" stroke-width="2.4" stroke-opacity="0.26"/>
<line x1="666.5" y1="266.5" x2="664.3" y2="267.7" stroke="#f7cdb5" stroke-width="2.5" stroke-opacity="0.51"/>
<line x1="664.3" y1="267.7" x2="661.8" y2="268.9" stroke="#f7cdb5" stroke-width="2.6" stroke-opacity="0.70"/>
<line x1="661.8" y1="268.9" x2="659.0" y2="270.2" stroke="#f7cdb5" stroke-width="2.6" stroke-opacity="0.85"/>
<line x1="659.0" y1="270.2" x2="656.1" y2="271.4" stroke="#f7cdb5" stroke-width="2.7" stroke-opacity="0.90"/>
<line x1="656.1" y1="271.4" x2="653.2" y2="272.6" stroke="#f7cdb5" stroke-width="2.7" stroke-opacity="0.90"/>
<line x1="653.2" y1="272.6" x2="650.3" y2="273.8" stroke="#f7cdb5" stroke-width="2.7" stroke-opacity="0.90"/>
<line x1="650.3" y1="273.8" x2="647.4" y2="275.0" stroke="#f7cdb5" stroke-width="2.7" stroke-opacity="0.90"/>
<line x1="647.4" y1="275.0" x2="644.8" y2="276.2" stroke="#f7cdb5" stroke-width="2.6" stroke-opacity="0.78"/>
<line x1="644.8" y1="276.2" x2="642.4" y2="277.4" stroke="#f7cdb5" stroke-width="2.5" stroke-opacity="0.60"/>
<line x1="642.4" y1="277.4" x2="640.4" y2="278.6" stroke="#f7cdb5" stroke-width="2.4" stroke-opacity="0.38"/>
<line x1="640.4" y1="278.6" x2="638.7" y2="279.8" stroke="#f7cdb5" stroke-width="2.3" stroke-opacity="0.12"/>
<line x1="638.7" y1="287.1" x2="640.3" y2="288.3" stroke="#f7cdb5" stroke-width="2.3" stroke-opacity="0.11"/>
<line x1="640.3" y1="288.3" x2="642.3" y2="289.5" stroke="#f7cdb5" stroke-width="2.4" stroke-opacity="0.37"/>
<line x1="642.3" y1="289.5" x2="644.7" y2="290.7" stroke="#f7cdb5" stroke-width="2.5" stroke-opacity="0.59"/>
<line x1="644.7" y1="290.7" x2="647.3" y2="291.9" stroke="#f7cdb5" stroke-width="2.6" stroke-opacity="0.77"/>
<line x1="647.3" y1="291.9" x2="650.1" y2="293.2" stroke="#f7cdb5" stroke-width="2.7" stroke-opacity="0.90"/>
<line x1="650.1" y1="293.2" x2="653.1" y2="294.4" stroke="#f7cdb5" stroke-width="2.7" stroke-opacity="0.90"/>
<line x1="653.1" y1="294.4" x2="656.0" y2="295.6" stroke="#f7cdb5" stroke-width="2.7" stroke-opacity="0.90"/>
<line x1="656.0" y1="295.6" x2="658.9" y2="296.8" stroke="#f7cdb5" stroke-width="2.7" stroke-opacity="0.90"/>
<line x1="658.9" y1="296.8" x2="661.7" y2="298.0" stroke="#f7cdb5" stroke-width="2.6" stroke-opacity="0.86"/>
<line x1="661.7" y1="298.0" x2="664.2" y2="299.2" stroke="#f7cdb5" stroke-width="2.6" stroke-opacity="0.71"/>
<line x1="664.2" y1="299.2" x2="666.5" y2="300.4" stroke="#f7cdb5" stroke-width="2.5" stroke-opacity="0.51"/>
<line x1="666.5" y1="300.4" x2="668.3" y2="301.6" stroke="#f7cdb5" stroke-width="2.4" stroke-opacity="0.28"/>
<line x1="668.7" y1="310.1" x2="666.9" y2="311.3" stroke="#f7cdb5" stroke-width="2.4" stroke-opacity="0.22"/>
<line x1="666.9" y1="311.3" x2="664.7" y2="312.5" stroke="#f7cdb5" stroke-width="2.5" stroke-opacity="0.47"/>
<line x1="664.7" y1="312.5" x2="662.2" y2="313.7" stroke="#f7cdb5" stroke-width="2.6" stroke-opacity="0.67"/>
<line x1="662.2" y1="313.7" x2="659.5" y2="314.9" stroke="#f7cdb5" stroke-width="2.6" stroke-opacity="0.83"/>
<line x1="659.5" y1="314.9" x2="656.7" y2="316.2" stroke="#f7cdb5" stroke-width="2.7" stroke-opacity="0.90"/>
<line x1="656.7" y1="316.2" x2="653.7" y2="317.4" stroke="#f7cdb5" stroke-width="2.7" stroke-opacity="0.90"/>
<line x1="653.7" y1="317.4" x2="650.8" y2="318.6" stroke="#f7cdb5" stroke-width="2.7" stroke-opacity="0.90"/>
<line x1="650.8" y1="318.6" x2="647.9" y2="319.8" stroke="#f7cdb5" stroke-width="2.7" stroke-opacity="0.90"/>
<line x1="647.9" y1="319.8" x2="645.2" y2="321.0" stroke="#f7cdb5" stroke-width="2.6" stroke-opacity="0.80"/>
<line x1="660.6" y1="230.0" x2="663.2" y2="231.2" stroke="#e36346" stroke-width="5.2" stroke-linecap="round"/>
<line x1="663.2" y1="231.2" x2="665.5" y2="232.4" stroke="#e25d44" stroke-width="5.1" stroke-linecap="round"/>
<line x1="665.5" y1="232.4" x2="667.6" y2="233.6" stroke="#e05640" stroke-width="4.9" stroke-linecap="round"/>
<line x1="667.6" y1="233.6" x2="669.2" y2="234.8" stroke="#de4e3c" stroke-width="4.7" stroke-linecap="round"/>
<line x1="669.2" y1="234.8" x2="670.5" y2="236.0" stroke="#db4537" stroke-width="4.5" stroke-linecap="round"/>
<line x1="670.5" y1="236.0" x2="671.2" y2="237.2" stroke="#d83a32" stroke-width="4.2" stroke-linecap="round"/>
<line x1="671.2" y1="237.2" x2="671.5" y2="238.4" stroke="#d6302d" stroke-width="3.9" stroke-linecap="round"/>
<line x1="671.5" y1="238.4" x2="671.3" y2="239.6" stroke="#d52f2d" stroke-width="3.9" stroke-linecap="round"/>
<line x1="671.3" y1="239.6" x2="670.6" y2="240.8" stroke="#d83932" stroke-width="4.2" stroke-linecap="round"/>
<line x1="670.6" y1="240.8" x2="669.4" y2="242.0" stroke="#db4337" stroke-width="4.4" stroke-linecap="round"/>
<line x1="669.4" y1="242.0" x2="667.8" y2="243.3" stroke="#dd4d3b" stroke-width="4.7" stroke-linecap="round"/>
<line x1="667.8" y1="243.3" x2="665.8" y2="244.5" stroke="#e05540" stroke-width="4.9" stroke-linecap="round"/>
<line x1="665.8" y1="244.5" x2="663.5" y2="245.7" stroke="#e15d43" stroke-width="5.1" stroke-linecap="round"/>
<line x1="663.5" y1="245.7" x2="660.9" y2="246.9" stroke="#e36246" stroke-width="5.2" stroke-linecap="round"/>
<line x1="660.9" y1="246.9" x2="658.1" y2="248.1" stroke="#e46748" stroke-width="5.3" stroke-linecap="round"/>
<line x1="658.1" y1="248.1" x2="655.2" y2="249.3" stroke="#e5694a" stroke-width="5.4" stroke-linecap="round"/>
<line x1="655.2" y1="249.3" x2="652.2" y2="250.5" stroke="#e56a4a" stroke-width="5.4" stroke-linecap="round"/>
<line x1="652.2" y1="250.5" x2="649.3" y2="251.7" stroke="#e56949" stroke-width="5.4" stroke-linecap="round"/>
<line x1="649.3" y1="251.7" x2="646.6" y2="252.9" stroke="#e46648" stroke-width="5.3" stroke-linecap="round"/>
<line x1="646.6" y1="252.9" x2="644.0" y2="254.1" stroke="#e36146" stroke-width="5.2" stroke-linecap="round"/>
<line x1="644.0" y1="254.1" x2="641.8" y2="255.3" stroke="#e15b43" stroke-width="5.0" stroke-linecap="round"/>
<line x1="641.8" y1="255.3" x2="639.8" y2="256.5" stroke="#df543f" stroke-width="4.8" stroke-linecap="round"/>
<line x1="639.8" y1="256.5" x2="638.3" y2="257.7" stroke="#dd4b3a" stroke-width="4.6" stroke-linecap="round"/>
<line x1="638.3" y1="257.7" x2="637.2" y2="258.9" stroke="#da4136" stroke-width="4.4" stroke-linecap="round"/>
<line x1="637.2" y1="258.9" x2="636.6" y2="260.1" stroke="#d73731" stroke-width="4.1" stroke-linecap="round"/>
<line x1="636.6" y1="260.1" x2="636.5" y2="261.3" stroke="#d52f2d" stroke-width="3.9" stroke-linecap="round"/>
<line x1="636.5" y1="261.3" x2="636.9" y2="262.5" stroke="#d6322e" stroke-width="4.0" stroke-linecap="round"/>
<line x1="636.9" y1="262.5" x2="637.8" y2="263.7" stroke="#d93d33" stroke-width="4.3" stroke-linecap="round"/>
<line x1="637.8" y1="263.7" x2="639.1" y2="264.9" stroke="#dc4738" stroke-width="4.5" stroke-linecap="round"/>
<line x1="639.1" y1="264.9" x2="640.8" y2="266.1" stroke="#de503d" stroke-width="4.7" stroke-linecap="round"/>
<line x1="640.8" y1="266.1" x2="642.9" y2="267.3" stroke="#e05841" stroke-width="4.9" stroke-linecap="round"/>
<line x1="642.9" y1="267.3" x2="645.4" y2="268.6" stroke="#e25f44" stroke-width="5.1" stroke-linecap="round"/>
<line x1="645.4" y1="268.6" x2="648.0" y2="269.8" stroke="#e36447" stroke-width="5.2" stroke-linecap="round"/>
<line x1="648.0" y1="269.8" x2="650.9" y2="271.0" stroke="#e46849" stroke-width="5.3" stroke-linecap="round"/>
<line x1="650.9" y1="271.0" x2="653.8" y2="272.2" stroke="#e5694a" stroke-width="5.4" stroke-linecap="round"/>
<line x1="653.8" y1="272.2" x2="656.7" y2="273.4" stroke="#e56a4a" stroke-width="5.4" stroke-linecap="round"/>
<line x1="656.7" y1="273.4" x2="659.6" y2="274.6" stroke="#e46849" stroke-width="5.3" stroke-linecap="round"/>
<line x1="659.6" y1="274.6" x2="662.3" y2="275.8" stroke="#e46547" stroke-width="5.3" stroke-linecap="round"/>
<line x1="662.3" y1="275.8" x2="664.8" y2="277.0" stroke="#e25f45" stroke-width="5.1" stroke-linecap="round"/>
<line x1="664.8" y1="277.0" x2="666.9" y2="278.2" stroke="#e05941" stroke-width="5.0" stroke-linecap="round"/>
<line x1="666.9" y1="278.2" x2="668.7" y2="279.4" stroke="#de513d" stroke-width="4.8" stroke-linecap="round"/>
<line x1="668.7" y1="279.4" x2="670.1" y2="280.6" stroke="#dc4839" stroke-width="4.5" stroke-linecap="round"/>
<line x1="670.1" y1="280.6" x2="671.0" y2="281.8" stroke="#d93e34" stroke-width="4.3" stroke-linecap="round"/>
<line x1="671.0" y1="281.8" x2="671.5" y2="283.0" stroke="#d7342f" stroke-width="4.0" stroke-linecap="round"/>
<line x1="671.5" y1="283.0" x2="671.4" y2="284.2" stroke="#d52f2d" stroke-width="3.9" stroke-linecap="round"/>
<line x1="671.4" y1="284.2" x2="670.9" y2="285.4" stroke="#d73630" stroke-width="4.1" stroke-linecap="round"/>
<line x1="670.9" y1="285.4" x2="669.9" y2="286.6" stroke="#da4035" stroke-width="4.3" stroke-linecap="round"/>
<line x1="669.9" y1="286.6" x2="668.4" y2="287.8" stroke="#dc4a3a" stroke-width="4.6" stroke-linecap="round"/>
<line x1="668.4" y1="287.8" x2="666.5" y2="289.0" stroke="#df533e" stroke-width="4.8" stroke-linecap="round"/>
<line x1="666.5" y1="289.0" x2="664.3" y2="290.2" stroke="#e15a42" stroke-width="5.0" stroke-linecap="round"/>
<line x1="664.3" y1="290.2" x2="661.8" y2="291.4" stroke="#e26145" stroke-width="5.2" stroke-linecap="round"/>
<line x1="661.8" y1="291.4" x2="659.1" y2="292.7" stroke="#e46548" stroke-width="5.3" stroke-linecap="round"/>
<line x1="659.1" y1="292.7" x2="656.2" y2="293.9" stroke="#e56849" stroke-width="5.4" stroke-linecap="round"/>
<line x1="656.2" y1="293.9" x2="653.2" y2="295.1" stroke="#e56a4a" stroke-width="5.4" stroke-linecap="round"/>
<line x1="653.2" y1="295.1" x2="650.3" y2="296.3" stroke="#e5694a" stroke-width="5.4" stroke-linecap="round"/>
<line x1="650.3" y1="296.3" x2="647.5" y2="297.5" stroke="#e46749" stroke-width="5.3" stroke-linecap="round"/>
<line x1="647.5" y1="297.5" x2="644.9" y2="298.7" stroke="#e36347" stroke-width="5.2" stroke-linecap="round"/>
<line x1="644.9" y1="298.7" x2="642.5" y2="299.9" stroke="#e25d44" stroke-width="5.1" stroke-linecap="round"/>
<line x1="642.5" y1="299.9" x2="640.5" y2="301.1" stroke="#e05640" stroke-width="4.9" stroke-linecap="round"/>
<line x1="640.5" y1="301.1" x2="638.8" y2="302.3" stroke="#de4e3c" stroke-width="4.7" stroke-linecap="round"/>
<line x1="638.8" y1="302.3" x2="637.6" y2="303.5" stroke="#db4537" stroke-width="4.5" stroke-linecap="round"/>
<line x1="637.6" y1="303.5" x2="636.8" y2="304.7" stroke="#d83b32" stroke-width="4.2" stroke-linecap="round"/>
<line x1="636.8" y1="304.7" x2="636.5" y2="305.9" stroke="#d6302d" stroke-width="3.9" stroke-linecap="round"/>
<line x1="636.5" y1="305.9" x2="636.7" y2="307.1" stroke="#d52f2d" stroke-width="3.9" stroke-linecap="round"/>
<line x1="636.7" y1="307.1" x2="637.4" y2="308.3" stroke="#d83932" stroke-width="4.2" stroke-linecap="round"/>
<line x1="637.4" y1="308.3" x2="638.6" y2="309.5" stroke="#db4337" stroke-width="4.4" stroke-linecap="round"/>
<line x1="638.6" y1="309.5" x2="640.2" y2="310.7" stroke="#dd4d3b" stroke-width="4.7" stroke-linecap="round"/>
<line x1="640.2" y1="310.7" x2="642.2" y2="311.9" stroke="#df5540" stroke-width="4.9" stroke-linecap="round"/>
<line x1="642.2" y1="311.9" x2="644.5" y2="313.1" stroke="#e15c43" stroke-width="5.1" stroke-linecap="round"/>
<line x1="644.5" y1="313.1" x2="647.1" y2="314.3" stroke="#e36246" stroke-width="5.2" stroke-linecap="round"/>
<line x1="647.1" y1="314.3" x2="649.9" y2="315.5" stroke="#e46648" stroke-width="5.3" stroke-linecap="round"/>
<line x1="649.9" y1="315.5" x2="652.8" y2="316.7" stroke="#e5694a" stroke-width="5.4" stroke-linecap="round"/>
<line x1="652.8" y1="316.7" x2="655.7" y2="318.0" stroke="#e56a4a" stroke-width="5.4" stroke-linecap="round"/>
<line x1="655.7" y1="318.0" x2="658.6" y2="319.2" stroke="#e56949" stroke-width="5.4" stroke-linecap="round"/>
<line x1="658.6" y1="319.2" x2="661.4" y2="320.4" stroke="#e46648" stroke-width="5.3" stroke-linecap="round"/>
<line x1="661.4" y1="320.4" x2="663.9" y2="321.6" stroke="#e36146" stroke-width="5.2" stroke-linecap="round"/>
<line x1="663.9" y1="321.6" x2="666.2" y2="322.8" stroke="#e15b43" stroke-width="5.0" stroke-linecap="round"/>
<line x1="666.2" y1="322.8" x2="668.1" y2="324.0" stroke="#df543f" stroke-width="4.8" stroke-linecap="round"/>
<line x1="668.1" y1="324.0" x2="669.7" y2="325.2" stroke="#dd4b3b" stroke-width="4.6" stroke-linecap="round"/>
<line x1="669.7" y1="325.2" x2="670.7" y2="326.4" stroke="#da4236" stroke-width="4.4" stroke-linecap="round"/>
<line x1="670.7" y1="326.4" x2="671.4" y2="327.6" stroke="#d83731" stroke-width="4.1" stroke-linecap="round"/>
<line x1="671.4" y1="327.6" x2="671.5" y2="328.8" stroke="#d52f2d" stroke-width="3.9" stroke-linecap="round"/>
<line x1="671.5" y1="328.8" x2="671.1" y2="330.0" stroke="#d6322e" stroke-width="4.0" stroke-linecap="round"/>
<line x1="660.6" y1="230.0" x2="663.2" y2="231.2" stroke="#f7cdb5" stroke-width="2.6" stroke-opacity="0.78"/>
<line x1="663.2" y1="231.2" x2="665.5" y2="232.4" stroke="#f7cdb5" stroke-width="2.5" stroke-opacity="0.60"/>
<line x1="665.5" y1="232.4" x2="667.6" y2="233.6" stroke="#f7cdb5" stroke-width="2.4" stroke-opacity="0.38"/>
<line x1="667.6" y1="233.6" x2="669.2" y2="234.8" stroke="#f7cdb5" stroke-width="2.3" stroke-opacity="0.12"/>
<line x1="669.4" y1="242.0" x2="667.8" y2="243.3" stroke="#f7cdb5" stroke-width="2.3" stroke-opacity="0.09"/>
<line x1="667.8" y1="243.3" x2="665.8" y2="244.5" stroke="#f7cdb5" stroke-width="2.4" stroke-opacity="0.36"/>
<line x1="665.8" y1="244.5" x2="663.5" y2="245.7" stroke="#f7cdb5" stroke-width="2.5" stroke-opacity="0.58"/>
<line x1="663.5" y1="245.7" x2="660.9" y2="246.9" stroke="#f7cdb5" stroke-width="2.6" stroke-opacity="0.76"/>
<line x1="660.9" y1="246.9" x2="658.1" y2="248.1" stroke="#f7cdb5" stroke-width="2.7" stroke-opacity="0.89"/>
<line x1="658.1" y1="248.1" x2="655.2" y2="249.3" stroke="#f7cdb5" stroke-width="2.7" stroke-opacity="0.90"/>
<line x1="655.2" y1="249.3" x2="652.2" y2="250.5" stroke="#f7cdb5" stroke-width="2.7" stroke-opacity="0.90"/>
<line x1="652.2" y1="250.5" x2="649.3" y2="251.7" stroke="#f7cdb5" stroke-width="2.7" stroke-opacity="0.90"/>
<line x1="649.3" y1="251.7" x2="646.6" y2="252.9" stroke="#f7cdb5" stroke-width="2.6" stroke-opacity="0.87"/>
<line x1="646.6" y1="252.9" x2="644.0" y2="254.1" stroke="#f7cdb5" stroke-width="2.6" stroke-opacity="0.73"/>
<line x1="644.0" y1="254.1" x2="641.8" y2="255.3" stroke="#f7cdb5" stroke-width="2.5" stroke-opacity="0.54"/>
<line x1="641.8" y1="255.3" x2="639.8" y2="256.5" stroke="#f7cdb5" stroke-width="2.4" stroke-opacity="0.30"/>
<line x1="639.8" y1="256.5" x2="638.3" y2="257.7" stroke="#f7cdb5" stroke-width="2.3" stroke-opacity="0.03"/>
<line x1="639.1" y1="264.9" x2="640.8" y2="266.1" stroke="#f7cdb5" stroke-width="2.4" stroke-opacity="0.18"/>
<line x1="640.8" y1="266.1" x2="642.9" y2="267.3" stroke="#f7cdb5" stroke-width="2.5" stroke-opacity="0.43"/>
<line x1="642.9" y1="267.3" x2="645.4" y2="268.6" stroke="#f7cdb5" stroke-width="2.6" stroke-opacity="0.64"/>
<line x1="645.4" y1="268.6" x2="648.0" y2="269.8" stroke="#f7cdb5" stroke-width="2.6" stroke-opacity="0.81"/>
<line x1="648.0" y1="269.8" x2="650.9" y2="271.0" stroke="#f7cdb5" stroke-width="2.7" stroke-opacity="0.90"/>
<line x1="650.9" y1="271.0" x2="653.8" y2="272.2" stroke="#f7cdb5" stroke-width="2.7" stroke-opacity="0.90"/>
<line x1="653.8" y1="272.2" x2="656.7" y2="273.4" stroke="#f7cdb5" stroke-width="2.7" stroke-opacity="0.90"/>
<line x1="656.7" y1="273.4" x2="659.6" y2="274.6" stroke="#f7cdb5" stroke-width="2.7" stroke-opacity="0.90"/>
<line x1="659.6" y1="274.6" x2="662.3" y2="275.8" stroke="#f7cdb5" stroke-width="2.6" stroke-opacity="0.83"/>
<line x1="662.3" y1="275.8" x2="664.8" y2="277.0" stroke="#f7cdb5" stroke-width="2.6" stroke-opacity="0.67"/>
<line x1="664.8" y1="277.0" x2="666.9" y2="278.2" stroke="#f7cdb5" stroke-width="2.5" stroke-opacity="0.46"/>
<line x1="666.9" y1="278.2" x2="668.7" y2="279.4" stroke="#f7cdb5" stroke-width="2.4" stroke-opacity="0.22"/>
<line x1="668.4" y1="287.8" x2="666.5" y2="289.0" stroke="#f7cdb5" stroke-width="2.4" stroke-opacity="0.27"/>
<line x1="666.5" y1="289.0" x2="664.3" y2="290.2" stroke="#f7cdb5" stroke-width="2.5" stroke-opacity="0.51"/>
<line x1="664.3" y1="290.2" x2="661.8" y2="291.4" stroke="#f7cdb5" stroke-width="2.6" stroke-opacity="0.70"/>
<line x1="661.8" y1="291.4" x2="659.1" y2="292.7" stroke="#f7cdb5" stroke-width="2.6" stroke-opacity="0.85"/>
<line x1="659.1" y1="292.7" x2="656.2" y2="293.9" stroke="#f7cdb5" stroke-width="2.7" stroke-opacity="0.90"/>
<line x1="656.2" y1="293.9" x2="653.2" y2="295.1" stroke="#f7cdb5" stroke-width="2.7" stroke-opacity="0.90"/>
<line x1="653.2" y1="295.1" x2="650.3" y2="296.3" stroke="#f7cdb5" stroke-width="2.7" stroke-opacity="0.90"/>
<line x1="650.3" y1="296.3" x2="647.5" y2="297.5" stroke="#f7cdb5" stroke-width="2.7" stroke-opacity="0.90"/>
<line x1="647.5" y1="297.5" x2="644.9" y2="298.7" stroke="#f7cdb5" stroke-width="2.6" stroke-opacity="0.78"/>
<line x1="644.9" y1="298.7" x2="642.5" y2="299.9" stroke="#f7cdb5" stroke-width="2.5" stroke-opacity="0.61"/>
<line x1="642.5" y1="299.9" x2="640.5" y2="301.1" stroke="#f7cdb5" stroke-width="2.5" stroke-opacity="0.39"/>
<line x1="640.5" y1="301.1" x2="638.8" y2="302.3" stroke="#f7cdb5" stroke-width="2.3" stroke-opacity="0.13"/>
<line x1="638.6" y1="309.5" x2="640.2" y2="310.7" stroke="#f7cdb5" stroke-width="2.3" stroke-opacity="0.08"/>
<line x1="640.2" y1="310.7" x2="642.2" y2="311.9" stroke="#f7cdb5" stroke-width="2.4" stroke-opacity="0.35"/>
<line x1="642.2" y1="311.9" x2="644.5" y2="313.1" stroke="#f7cdb5" stroke-width="2.5" stroke-opacity="0.58"/>
<line x1="644.5" y1="313.1" x2="647.1" y2="314.3" stroke="#f7cdb5" stroke-width="2.6" stroke-opacity="0.76"/>
<line x1="647.1" y1="314.3" x2="649.9" y2="315.5" stroke="#f7cdb5" stroke-width="2.7" stroke-opacity="0.89"/>
<line x1="649.9" y1="315.5" x2="652.8" y2="316.7" stroke="#f7cdb5" stroke-width="2.7" stroke-opacity="0.90"/>
<line x1="652.8" y1="316.7" x2="655.7" y2="318.0" stroke="#f7cdb5" stroke-width="2.7" stroke-opacity="0.90"/>
<line x1="655.7" y1="318.0" x2="658.6" y2="319.2" stroke="#f7cdb5" stroke-width="2.7" stroke-opacity="0.90"/>
<line x1="658.6" y1="319.2" x2="661.4" y2="320.4" stroke="#f7cdb5" stroke-width="2.6" stroke-opacity="0.87"/>
<line x1="661.4" y1="320.4" x2="663.9" y2="321.6" stroke="#f7cdb5" stroke-width="2.6" stroke-opacity="0.73"/>
<line x1="663.9" y1="321.6" x2="666.2" y2="322.8" stroke="#f7cdb5" stroke-width="2.5" stroke-opacity="0.54"/>
<line x1="666.2" y1="322.8" x2="668.1" y2="324.0" stroke="#f7cdb5" stroke-width="2.4" stroke-opacity="0.31"/>
<line x1="668.1" y1="324.0" x2="669.7" y2="325.2" stroke="#f7cdb5" stroke-width="2.3" stroke-opacity="0.04"/>
<path d="M671.1,330.0 Q665.1,339.0 655.0,348.0" fill="none" stroke="#e77b57" stroke-width="4.5" stroke-linecap="round" opacity="0.85"/>
<line x1="692.8" y1="258.0" x2="695.5" y2="259.2" stroke="#e56a4a" stroke-width="5.4" stroke-linecap="round"/>
<line x1="695.5" y1="259.2" x2="698.3" y2="260.4" stroke="#e5694a" stroke-width="5.4" stroke-linecap="round"/>
<line x1="698.3" y1="260.4" x2="700.9" y2="261.6" stroke="#e46748" stroke-width="5.3" stroke-linecap="round"/>
<line x1="700.9" y1="261.6" x2="703.3" y2="262.8" stroke="#e36346" stroke-width="5.2" stroke-linecap="round"/>
<line x1="703.3" y1="262.8" x2="705.5" y2="264.0" stroke="#e15d43" stroke-width="5.1" stroke-linecap="round"/>
<line x1="705.5" y1="264.0" x2="707.4" y2="265.2" stroke="#e05640" stroke-width="4.9" stroke-linecap="round"/>
<line x1="707.4" y1="265.2" x2="709.0" y2="266.4" stroke="#dd4d3c" stroke-width="4.7" stroke-linecap="round"/>
<line x1="709.0" y1="266.4" x2="710.1" y2="267.6" stroke="#db4437" stroke-width="4.4" stroke-linecap="round"/>
<line x1="710.1" y1="267.6" x2="710.8" y2="268.8" stroke="#d83a32" stroke-width="4.2" stroke-linecap="round"/>
<line x1="710.8" y1="268.8" x2="711.0" y2="270.0" stroke="#d52f2d" stroke-width="3.9" stroke-linecap="round"/>
<line x1="711.0" y1="270.0" x2="710.8" y2="271.2" stroke="#d52f2d" stroke-width="3.9" stroke-linecap="round"/>
<line x1="710.8" y1="271.2" x2="710.1" y2="272.4" stroke="#d83a32" stroke-width="4.2" stroke-linecap="round"/>
<line x1="710.1" y1="272.4" x2="709.0" y2="273.6" stroke="#db4437" stroke-width="4.4" stroke-linecap="round"/>
<line x1="709.0" y1="273.6" x2="707.4" y2="274.8" stroke="#dd4d3c" stroke-width="4.7" stroke-linecap="round"/>
<line x1="707.4" y1="274.8" x2="705.5" y2="276.0" stroke="#e05640" stroke-width="4.9" stroke-linecap="round"/>
<line x1="705.5" y1="276.0" x2="703.3" y2="277.2" stroke="#e15d43" stroke-width="5.1" stroke-linecap="round"/>
<line x1="703.3" y1="277.2" x2="700.9" y2="278.4" stroke="#e36346" stroke-width="5.2" stroke-linecap="round"/>
<line x1="700.9" y1="278.4" x2="698.3" y2="279.6" stroke="#e46748" stroke-width="5.3" stroke-linecap="round"/>
<line x1="698.3" y1="279.6" x2="695.5" y2="280.8" stroke="#e5694a" stroke-width="5.4" stroke-linecap="round"/>
<line x1="695.5" y1="280.8" x2="692.8" y2="282.0" stroke="#e56a4a" stroke-width="5.4" stroke-linecap="round"/>
<line x1="692.8" y1="282.0" x2="690.1" y2="283.2" stroke="#e56949" stroke-width="5.4" stroke-linecap="round"/>
<line x1="690.1" y1="283.2" x2="687.5" y2="284.4" stroke="#e46648" stroke-width="5.3" stroke-linecap="round"/>
<line x1="687.5" y1="284.4" x2="685.1" y2="285.6" stroke="#e36146" stroke-width="5.2" stroke-linecap="round"/>
<line x1="685.1" y1="285.6" x2="683.0" y2="286.8" stroke="#e15b43" stroke-width="5.0" stroke-linecap="round"/>
<line x1="683.0" y1="286.8" x2="681.2" y2="288.0" stroke="#df543f" stroke-width="4.8" stroke-linecap="round"/>
<line x1="681.2" y1="288.0" x2="679.7" y2="289.2" stroke="#dd4b3b" stroke-width="4.6" stroke-linecap="round"/>
<line x1="679.7" y1="289.2" x2="678.7" y2="290.4" stroke="#da4136" stroke-width="4.4" stroke-linecap="round"/>
<line x1="678.7" y1="290.4" x2="678.1" y2="291.6" stroke="#d83731" stroke-width="4.1" stroke-linecap="round"/>
<line x1="678.1" y1="291.6" x2="678.0" y2="292.8" stroke="#d52f2d" stroke-width="3.9" stroke-linecap="round"/>
<line x1="678.0" y1="292.8" x2="678.4" y2="294.0" stroke="#d6322e" stroke-width="4.0" stroke-linecap="round"/>
<line x1="678.4" y1="294.0" x2="679.2" y2="295.2" stroke="#d93c33" stroke-width="4.2" stroke-linecap="round"/>
<line x1="679.2" y1="295.2" x2="680.4" y2="296.4" stroke="#dc4638" stroke-width="4.5" stroke-linecap="round"/>
<line x1="680.4" y1="296.4" x2="682.0" y2="297.6" stroke="#de4f3d" stroke-width="4.7" stroke-linecap="round"/>
<line x1="682.0" y1="297.6" x2="684.0" y2="298.8" stroke="#e05841" stroke-width="4.9" stroke-linecap="round"/>
<line x1="684.0" y1="298.8" x2="686.2" y2="300.0" stroke="#e25e44" stroke-width="5.1" stroke-linecap="round"/>
<line x1="686.2" y1="300.0" x2="688.7" y2="301.2" stroke="#e36447" stroke-width="5.2" stroke-linecap="round"/>
<line x1="688.7" y1="301.2" x2="691.4" y2="302.4" stroke="#e46749" stroke-width="5.3" stroke-linecap="round"/>
<line x1="691.4" y1="302.4" x2="694.2" y2="303.6" stroke="#e5694a" stroke-width="5.4" stroke-linecap="round"/>
<line x1="694.2" y1="303.6" x2="696.9" y2="304.8" stroke="#e56a4a" stroke-width="5.4" stroke-linecap="round"/>
<line x1="696.9" y1="304.8" x2="699.6" y2="306.0" stroke="#e46849" stroke-width="5.4" stroke-linecap="round"/>
<line x1="699.6" y1="306.0" x2="702.1" y2="307.2" stroke="#e46547" stroke-width="5.3" stroke-linecap="round"/>
<line x1="702.1" y1="307.2" x2="704.5" y2="308.4" stroke="#e26045" stroke-width="5.1" stroke-linecap="round"/>
<line x1="704.5" y1="308.4" x2="706.5" y2="309.6" stroke="#e15942" stroke-width="5.0" stroke-linecap="round"/>
<line x1="706.5" y1="309.6" x2="708.2" y2="310.8" stroke="#df523e" stroke-width="4.8" stroke-linecap="round"/>
<line x1="708.2" y1="310.8" x2="709.6" y2="312.0" stroke="#dc4939" stroke-width="4.6" stroke-linecap="round"/>
<line x1="709.6" y1="312.0" x2="710.5" y2="313.2" stroke="#da3f34" stroke-width="4.3" stroke-linecap="round"/>
<line x1="710.5" y1="313.2" x2="710.9" y2="314.4" stroke="#d7352f" stroke-width="4.0" stroke-linecap="round"/>
<line x1="710.9" y1="314.4" x2="710.9" y2="315.6" stroke="#d52f2d" stroke-width="3.9" stroke-linecap="round"/>
<line x1="710.9" y1="315.6" x2="710.5" y2="316.8" stroke="#d7352f" stroke-width="4.0" stroke-linecap="round"/>
<line x1="710.5" y1="316.8" x2="709.6" y2="318.0" stroke="#da3f34" stroke-width="4.3" stroke-linecap="round"/>
<line x1="709.6" y1="318.0" x2="708.2" y2="319.2" stroke="#dc4939" stroke-width="4.6" stroke-linecap="round"/>
<line x1="708.2" y1="319.2" x2="706.5" y2="320.4" stroke="#df523e" stroke-width="4.8" stroke-linecap="round"/>
<line x1="706.5" y1="320.4" x2="704.5" y2="321.6" stroke="#e15942" stroke-width="5.0" stroke-linecap="round"/>
<line x1="704.5" y1="321.6" x2="702.1" y2="322.8" stroke="#e26045" stroke-width="5.1" stroke-linecap="round"/>
<line x1="702.1" y1="322.8" x2="699.6" y2="324.0" stroke="#e46547" stroke-width="5.3" stroke-linecap="round"/>
<line x1="699.6" y1="324.0" x2="696.9" y2="325.2" stroke="#e46849" stroke-width="5.4" stroke-linecap="round"/>
<line x1="696.9" y1="325.2" x2="694.2" y2="326.4" stroke="#e56a4a" stroke-width="5.4" stroke-linecap="round"/>
<line x1="694.2" y1="326.4" x2="691.4" y2="327.6" stroke="#e5694a" stroke-width="5.4" stroke-linecap="round"/>
<line x1="691.4" y1="327.6" x2="688.7" y2="328.8" stroke="#e46749" stroke-width="5.3" stroke-linecap="round"/>
<line x1="688.7" y1="328.8" x2="686.2" y2="330.0" stroke="#e36447" stroke-width="5.2" stroke-linecap="round"/>
<line x1="686.2" y1="330.0" x2="684.0" y2="331.2" stroke="#e25e44" stroke-width="5.1" stroke-linecap="round"/>
<line x1="684.0" y1="331.2" x2="682.0" y2="332.4" stroke="#e05841" stroke-width="4.9" stroke-linecap="round"/>
<line x1="682.0" y1="332.4" x2="680.4" y2="333.6" stroke="#de4f3d" stroke-width="4.7" stroke-linecap="round"/>
<line x1="680.4" y1="333.6" x2="679.2" y2="334.8" stroke="#dc4638" stroke-width="4.5" stroke-linecap="round"/>
<line x1="679.2" y1="334.8" x2="678.4" y2="336.0" stroke="#d93c33" stroke-width="4.2" stroke-linecap="round"/>
<line x1="678.4" y1="336.0" x2="678.0" y2="337.2" stroke="#d6322e" stroke-width="4.0" stroke-linecap="round"/>
<line x1="678.0" y1="337.2" x2="678.1" y2="338.4" stroke="#d52f2d" stroke-width="3.9" stroke-linecap="round"/>
<line x1="678.1" y1="338.4" x2="678.7" y2="339.6" stroke="#d83731" stroke-width="4.1" stroke-linecap="round"/>
<line x1="678.7" y1="339.6" x2="679.7" y2="340.8" stroke="#da4136" stroke-width="4.4" stroke-linecap="round"/>
<line x1="679.7" y1="340.8" x2="681.2" y2="342.0" stroke="#dd4b3b" stroke-width="4.6" stroke-linecap="round"/>
<line x1="681.2" y1="342.0" x2="683.0" y2="343.2" stroke="#df543f" stroke-width="4.8" stroke-linecap="round"/>
<line x1="683.0" y1="343.2" x2="685.1" y2="344.4" stroke="#e15b43" stroke-width="5.0" stroke-linecap="round"/>
<line x1="685.1" y1="344.4" x2="687.5" y2="345.6" stroke="#e36146" stroke-width="5.2" stroke-linecap="round"/>
<line x1="687.5" y1="345.6" x2="690.1" y2="346.8" stroke="#e46648" stroke-width="5.3" stroke-linecap="round"/>
<line x1="690.1" y1="346.8" x2="692.8" y2="348.0" stroke="#e56949" stroke-width="5.4" stroke-linecap="round"/>
<line x1="692.8" y1="348.0" x2="695.5" y2="349.2" stroke="#e56a4a" stroke-width="5.4" stroke-linecap="round"/>
<line x1="695.5" y1="349.2" x2="698.3" y2="350.4" stroke="#e5694a" stroke-width="5.4" stroke-linecap="round"/>
<line x1="698.3" y1="350.4" x2="700.9" y2="351.6" stroke="#e46748" stroke-width="5.3" stroke-linecap="round"/>
<line x1="700.9" y1="351.6" x2="703.3" y2="352.8" stroke="#e36346" stroke-width="5.2" stroke-linecap="round"/>
<line x1="703.3" y1="352.8" x2="705.5" y2="354.0" stroke="#e15d43" stroke-width="5.1" stroke-linecap="round"/>
<line x1="705.5" y1="354.0" x2="707.4" y2="355.2" stroke="#e05640" stroke-width="4.9" stroke-linecap="round"/>
<line x1="707.4" y1="355.2" x2="709.0" y2="356.4" stroke="#dd4d3c" stroke-width="4.7" stroke-linecap="round"/>
<line x1="709.0" y1="356.4" x2="710.1" y2="357.6" stroke="#db4437" stroke-width="4.4" stroke-linecap="round"/>
<line x1="710.1" y1="357.6" x2="710.8" y2="358.8" stroke="#d83a32" stroke-width="4.2" stroke-linecap="round"/>
<line x1="710.8" y1="358.8" x2="711.0" y2="360.0" stroke="#d52f2d" stroke-width="3.9" stroke-linecap="round"/>
<line x1="711.0" y1="360.0" x2="710.8" y2="361.2" stroke="#d52f2d" stroke-width="3.9" stroke-linecap="round"/>
<line x1="710.8" y1="361.2" x2="710.1" y2="362.4" stroke="#d83a32" stroke-width="4.2" stroke-linecap="round"/>
<line x1="710.1" y1="362.4" x2="709.0" y2="363.6" stroke="#db4437" stroke-width="4.4" stroke-linecap="round"/>
<line x1="709.0" y1="363.6" x2="707.4" y2="364.8" stroke="#dd4d3c" stroke-width="4.7" stroke-linecap="round"/>
<line x1="707.4" y1="364.8" x2="705.5" y2="366.0" stroke="#e05640" stroke-width="4.9" stroke-linecap="round"/>
<line x1="692.8" y1="258.0" x2="695.5" y2="259.2" stroke="#f7cdb5" stroke-width="2.7" stroke-opacity="0.90"/>
<line x1="695.5" y1="259.2" x2="698.3" y2="260.4" stroke="#f7cdb5" stroke-width="2.7" stroke-opacity="0.90"/>
<line x1="698.3" y1="260.4" x2="700.9" y2="261.6" stroke="#f7cdb5" stroke-width="2.7" stroke-opacity="0.90"/>
<line x1="700.9" y1="261.6" x2="703.3" y2="262.8" stroke="#f7cdb5" stroke-width="2.6" stroke-opacity="0.77"/>
<line x1="703.3" y1="262.8" x2="705.5" y2="264.0" stroke="#f7cdb5" stroke-width="2.5" stroke-opacity="0.59"/>
<line x1="705.5" y1="264.0" x2="707.4" y2="265.2" stroke="#f7cdb5" stroke-width="2.4" stroke-opacity="0.36"/>
<line x1="707.4" y1="265.2" x2="709.0" y2="266.4" stroke="#f7cdb5" stroke-width="2.3" stroke-opacity="0.10"/>
<line x1="709.0" y1="273.6" x2="707.4" y2="274.8" stroke="#f7cdb5" stroke-width="2.3" stroke-opacity="0.10"/>
<line x1="707.4" y1="274.8" x2="705.5" y2="276.0" stroke="#f7cdb5" stroke-width="2.4" stroke-opacity="0.36"/>
<line x1="705.5" y1="276.0" x2="703.3" y2="277.2" stroke="#f7cdb5" stroke-width="2.5" stroke-opacity="0.59"/>
<line x1="703.3" y1="277.2" x2="700.9" y2="278.4" stroke="#f7cdb5" stroke-width="2.6" stroke-opacity="0.77"/>
<line x1="700.9" y1="278.4" x2="698.3" y2="279.6" stroke="#f7cdb5" stroke-width="2.7" stroke-opacity="0.90"/>
<line x1="698.3" y1="279.6" x2="695.5" y2="280.8" stroke="#f7cdb5" stroke-width="2.7" stroke-opacity="0.90"/>
<line x1="695.5" y1="280.8" x2="692.8" y2="282.0" stroke="#f7cdb5" stroke-width="2.7" stroke-opacity="0.90"/>
<line x1="692.8" y1="282.0" x2="690.1" y2="283.2" stroke="#f7cdb5" stroke-width="2.7" stroke-opacity="0.90"/>
<line x1="690.1" y1="283.2" x2="687.5" y2="284.4" stroke="#f7cdb5" stroke-width="2.6" stroke-opacity="0.87"/>
<line x1="687.5" y1="284.4" x2="685.1" y2="285.6" stroke="#f7cdb5" stroke-width="2.6" stroke-opacity="0.73"/>
<line x1="685.1" y1="285.6" x2="683.0" y2="286.8" stroke="#f7cdb5" stroke-width="2.5" stroke-opacity="0.54"/>
<line x1="683.0" y1="286.8" x2="681.2" y2="288.0" stroke="#f7cdb5" stroke-width="2.4" stroke-opacity="0.30"/>
<line x1="681.2" y1="288.0" x2="679.7" y2="289.2" stroke="#f7cdb5" stroke-width="2.3" stroke-opacity="0.03"/>
<line x1="680.4" y1="296.4" x2="682.0" y2="297.6" stroke="#f7cdb5" stroke-width="2.4" stroke-opacity="0.17"/>
<line x1="682.0" y1="297.6" x2="684.0" y2="298.8" stroke="#f7cdb5" stroke-width="2.5" stroke-opacity="0.42"/>
<line x1="684.0" y1="298.8" x2="686.2" y2="300.0" stroke="#f7cdb5" stroke-width="2.6" stroke-opacity="0.64"/>
<line x1="686.2" y1="300.0" x2="688.7" y2="301.2" stroke="#f7cdb5" stroke-width="2.6" stroke-opacity="0.80"/>
<line x1="688.7" y1="301.2" x2="691.4" y2="302.4" stroke="#f7cdb5" stroke-width="2.7" stroke-opacity="0.90"/>
<line x1="691.4" y1="302.4" x2="694.2" y2="303.6" stroke="#f7cdb5" stroke-width="2.7" stroke-opacity="0.90"/>
<line x1="694.2" y1="303.6" x2="696.9" y2="304.8" stroke="#f7cdb5" stroke-width="2.7" stroke-opacity="0.90"/>
<line x1="696.9" y1="304.8" x2="699.6" y2="306.0" stroke="#f7cdb5" stroke-width="2.7" stroke-opacity="0.90"/>
<line x1="699.6" y1="306.0" x2="702.1" y2="307.2" stroke="#f7cdb5" stroke-width="2.6" stroke-opacity="0.84"/>
<line x1="702.1" y1="307.2" x2="704.5" y2="308.4" stroke="#f7cdb5" stroke-width="2.6" stroke-opacity="0.68"/>
<line x1="704.5" y1="308.4" x2="706.5" y2="309.6" stroke="#f7cdb5" stroke-width="2.5" stroke-opacity="0.48"/>
<line x1="706.5" y1="309.6" x2="708.2" y2="310.8" stroke="#f7cdb5" stroke-width="2.4" stroke-opacity="0.24"/>
<line x1="708.2" y1="319.2" x2="706.5" y2="320.4" stroke="#f7cdb5" stroke-width="2.4" stroke-opacity="0.24"/>
<line x1="706.5" y1="320.4" x2="704.5" y2="321.6" stroke="#f7cdb5" stroke-width="2.5" stroke-opacity="0.48"/>
<line x1="704.5" y1="321.6" x2="702.1" y2="322.8" stroke="#f7cdb5" stroke-width="2.6" stroke-opacity="0.68"/>
<line x1="702.1" y1="322.8" x2="699.6" y2="324.0" stroke="#f7cdb5" stroke-width="2.6" stroke-opacity="0.84"/>
<line x1="699.6" y1="324.0" x2="696.9" y2="325.2" stroke="#f7cdb5" stroke-width="2.7" stroke-opacity="0.90"/>
<line x1="696.9" y1="325.2" x2="694.2" y2="326.4" stroke="#f7cdb5" stroke-width="2.7" stroke-opacity="0.90"/>
<line x1="694.2" y1="326.4" x2="691.4" y2="327.6" stroke="#f7cdb5" stroke-width="2.7" stroke-opacity="0.90"/>
<line x1="691.4" y1="327.6" x2="688.7" y2="328.8" stroke="#f7cdb5" stroke-width="2.7" stroke-opacity="0.90"/>
<line x1="688.7" y1="328.8" x2="686.2" y2="330.0" stroke="#f7cdb5" stroke-width="2.6" stroke-opacity="0.80"/>
<line x1="686.2" y1="330.0" x2="684.0" y2="331.2" stroke="#f7cdb5" stroke-width="2.6" stroke-opacity="0.64"/>
<line x1="684.0" y1="331.2" x2="682.0" y2="332.4" stroke="#f7cdb5" stroke-width="2.5" stroke-opacity="0.42"/>
<line x1="682.0" y1="332.4" x2="680.4" y2="333.6" stroke="#f7cdb5" stroke-width="2.4" stroke-opacity="0.17"/>
<line x1="679.7" y1="340.8" x2="681.2" y2="342.0" stroke="#f7cdb5" stroke-width="2.3" stroke-opacity="0.03"/>
<line x1="681.2" y1="342.0" x2="683.0" y2="343.2" stroke="#f7cdb5" stroke-width="2.4" stroke-opacity="0.30"/>
<line x1="683.0" y1="343.2" x2="685.1" y2="344.4" stroke="#f7cdb5" stroke-width="2.5" stroke-opacity="0.54"/>
<line x1="685.1" y1="344.4" x2="687.5" y2="345.6" stroke="#f7cdb5" stroke-width="2.6" stroke-opacity="0.73"/>
<line x1="687.5" y1="345.6" x2="690.1" y2="346.8" stroke="#f7cdb5" stroke-width="2.6" stroke-opacity="0.87"/>
<line x1="690.1" y1="346.8" x2="692.8" y2="348.0" stroke="#f7cdb5" stroke-width="2.7" stroke-opacity="0.90"/>
<line x1="692.8" y1="348.0" x2="695.5" y2="349.2" stroke="#f7cdb5" stroke-width="2.7" stroke-opacity="0.90"/>
<line x1="695.5" y1="349.2" x2="698.3" y2="350.4" stroke="#f7cdb5" stroke-width="2.7" stroke-opacity="0.90"/>
<line x1="698.3" y1="350.4" x2="700.9" y2="351.6" stroke="#f7cdb5" stroke-width="2.7" stroke-opacity="0.90"/>
<line x1="700.9" y1="351.6" x2="703.3" y2="352.8" stroke="#f7cdb5" stroke-width="2.6" stroke-opacity="0.77"/>
<line x1="703.3" y1="352.8" x2="705.5" y2="354.0" stroke="#f7cdb5" stroke-width="2.5" stroke-opacity="0.59"/>
<line x1="705.5" y1="354.0" x2="707.4" y2="355.2" stroke="#f7cdb5" stroke-width="2.4" stroke-opacity="0.36"/>
<line x1="707.4" y1="355.2" x2="709.0" y2="356.4" stroke="#f7cdb5" stroke-width="2.3" stroke-opacity="0.10"/>
<line x1="709.0" y1="363.6" x2="707.4" y2="364.8" stroke="#f7cdb5" stroke-width="2.3" stroke-opacity="0.10"/>
<line x1="707.4" y1="364.8" x2="705.5" y2="366.0" stroke="#f7cdb5" stroke-width="2.4" stroke-opacity="0.36"/>
<path d="M705.5,366.0 Q705.8,371.0 702.0,376.0" fill="none" stroke="#e77b57" stroke-width="4.5" stroke-linecap="round" opacity="0.85"/>
<line x1="727.2" y1="194.5" x2="729.9" y2="195.7" stroke="#e56a4a" stroke-width="5.4" stroke-linecap="round"/>
<line x1="729.9" y1="195.7" x2="732.5" y2="196.9" stroke="#e5694a" stroke-width="5.4" stroke-linecap="round"/>
<line x1="732.5" y1="196.9" x2="735.1" y2="198.1" stroke="#e46749" stroke-width="5.3" stroke-linecap="round"/>
<line x1="735.1" y1="198.1" x2="737.5" y2="199.3" stroke="#e36347" stroke-width="5.2" stroke-linecap="round"/>
<line x1="737.5" y1="199.3" x2="739.6" y2="200.6" stroke="#e25e44" stroke-width="5.1" stroke-linecap="round"/>
<line x1="739.6" y1="200.6" x2="741.5" y2="201.8" stroke="#e05740" stroke-width="4.9" stroke-linecap="round"/>
<line x1="741.5" y1="201.8" x2="743.0" y2="203.0" stroke="#de4e3c" stroke-width="4.7" stroke-linecap="round"/>
<line x1="743.0" y1="203.0" x2="744.1" y2="204.2" stroke="#db4537" stroke-width="4.5" stroke-linecap="round"/>
<line x1="744.1" y1="204.2" x2="744.8" y2="205.4" stroke="#d83b32" stroke-width="4.2" stroke-linecap="round"/>
<line x1="744.8" y1="205.4" x2="745.1" y2="206.6" stroke="#d6302d" stroke-width="3.9" stroke-linecap="round"/>
<line x1="745.1" y1="206.6" x2="744.9" y2="207.8" stroke="#d52f2d" stroke-width="3.9" stroke-linecap="round"/>
<line x1="744.9" y1="207.8" x2="744.3" y2="209.0" stroke="#d83932" stroke-width="4.2" stroke-linecap="round"/>
<line x1="744.3" y1="209.0" x2="743.2" y2="210.3" stroke="#db4437" stroke-width="4.4" stroke-linecap="round"/>
<line x1="743.2" y1="210.3" x2="741.7" y2="211.5" stroke="#dd4d3c" stroke-width="4.7" stroke-linecap="round"/>
<line x1="741.7" y1="211.5" x2="739.9" y2="212.7" stroke="#e05540" stroke-width="4.9" stroke-linecap="round"/>
<line x1="739.9" y1="212.7" x2="737.8" y2="213.9" stroke="#e15d43" stroke-width="5.1" stroke-linecap="round"/>
<line x1="737.8" y1="213.9" x2="735.4" y2="215.1" stroke="#e36346" stroke-width="5.2" stroke-linecap="round"/>
<line x1="735.4" y1="215.1" x2="732.9" y2="216.3" stroke="#e46748" stroke-width="5.3" stroke-linecap="round"/>
<line x1="732.9" y1="216.3" x2="730.2" y2="217.5" stroke="#e5694a" stroke-width="5.4" stroke-linecap="round"/>
<line x1="730.2" y1="217.5" x2="727.6" y2="218.7" stroke="#e56a4a" stroke-width="5.4" stroke-linecap="round"/>
<line x1="727.6" y1="218.7" x2="724.9" y2="220.0" stroke="#e56949" stroke-width="5.4" stroke-linecap="round"/>
<line x1="724.9" y1="220.0" x2="722.4" y2="221.2" stroke="#e46648" stroke-width="5.3" stroke-linecap="round"/>
<line x1="722.4" y1="221.2" x2="720.1" y2="222.4" stroke="#e36145" stroke-width="5.2" stroke-linecap="round"/>
<line x1="720.1" y1="222.4" x2="718.1" y2="223.6" stroke="#e15b42" stroke-width="5.0" stroke-linecap="round"/>
<line x1="718.1" y1="223.6" x2="716.4" y2="224.8" stroke="#df533f" stroke-width="4.8" stroke-linecap="round"/>
<line x1="716.4" y1="224.8" x2="715.0" y2="226.0" stroke="#dd4a3a" stroke-width="4.6" stroke-linecap="round"/>
<line x1="715.0" y1="226.0" x2="714.1" y2="227.2" stroke="#da4135" stroke-width="4.3" stroke-linecap="round"/>
<line x1="714.1" y1="227.2" x2="713.6" y2="228.4" stroke="#d73630" stroke-width="4.1" stroke-linecap="round"/>
<line x1="713.6" y1="228.4" x2="713.5" y2="229.6" stroke="#d52f2d" stroke-width="3.9" stroke-linecap="round"/>
<line x1="713.5" y1="229.6" x2="713.9" y2="230.9" stroke="#d6332f" stroke-width="4.0" stroke-linecap="round"/>
<line x1="713.9" y1="230.9" x2="714.8" y2="232.1" stroke="#d93e34" stroke-width="4.3" stroke-linecap="round"/>
<line x1="714.8" y1="232.1" x2="716.0" y2="233.3" stroke="#dc4839" stroke-width="4.5" stroke-linecap="round"/>
<line x1="716.0" y1="233.3" x2="717.6" y2="234.5" stroke="#de513d" stroke-width="4.8" stroke-linecap="round"/>
<line x1="717.6" y1="234.5" x2="719.6" y2="235.7" stroke="#e05941" stroke-width="5.0" stroke-linecap="round"/>
<line x1="719.6" y1="235.7" x2="721.8" y2="236.9" stroke="#e25f45" stroke-width="5.1" stroke-linecap="round"/>
<line x1="721.8" y1="236.9" x2="724.3" y2="238.1" stroke="#e46547" stroke-width="5.3" stroke-linecap="round"/>
<line x1="724.3" y1="238.1" x2="726.9" y2="239.3" stroke="#e46849" stroke-width="5.3" stroke-linecap="round"/>
<line x1="726.9" y1="239.3" x2="729.5" y2="240.6" stroke="#e56a4a" stroke-width="5.4" stroke-linecap="round"/>
<line x1="729.5" y1="240.6" x2="732.2" y2="241.8" stroke="#e5694a" stroke-width="5.4" stroke-linecap="round"/>
<line x1="732.2" y1="241.8" x2="734.8" y2="243.0" stroke="#e46749" stroke-width="5.3" stroke-linecap="round"/>
<line x1="734.8" y1="243.0" x2="737.2" y2="244.2" stroke="#e36447" stroke-width="5.2" stroke-linecap="round"/>
<line x1="737.2" y1="244.2" x2="739.4" y2="245.4" stroke="#e25e44" stroke-width="5.1" stroke-linecap="round"/>
<line x1="739.4" y1="245.4" x2="741.3" y2="246.6" stroke="#e05841" stroke-width="4.9" stroke-linecap="round"/>
<line x1="741.3" y1="246.6" x2="742.8" y2="247.8" stroke="#de4f3d" stroke-width="4.7" stroke-linecap="round"/>
<line x1="742.8" y1="247.8" x2="744.0" y2="249.0" stroke="#db4638" stroke-width="4.5" stroke-linecap="round"/>
<line x1="744.0" y1="249.0" x2="744.8" y2="250.2" stroke="#d93c33" stroke-width="4.2" stroke-linecap="round"/>
<line x1="744.8" y1="250.2" x2="745.1" y2="251.5" stroke="#d6312e" stroke-width="4.0" stroke-linecap="round"/>
<line x1="745.1" y1="251.5" x2="745.0" y2="252.7" stroke="#d52f2d" stroke-width="3.9" stroke-linecap="round"/>
<line x1="745.0" y1="252.7" x2="744.4" y2="253.9" stroke="#d83831" stroke-width="4.1" stroke-linecap="round"/>
<line x1="744.4" y1="253.9" x2="743.4" y2="255.1" stroke="#da4236" stroke-width="4.4" stroke-linecap="round"/>
<line x1="743.4" y1="255.1" x2="741.9" y2="256.3" stroke="#dd4c3b" stroke-width="4.6" stroke-linecap="round"/>
<line x1="741.9" y1="256.3" x2="740.2" y2="257.5" stroke="#df543f" stroke-width="4.9" stroke-linecap="round"/>
<line x1="740.2" y1="257.5" x2="738.1" y2="258.7" stroke="#e15c43" stroke-width="5.0" stroke-linecap="round"/>
<line x1="738.1" y1="258.7" x2="735.7" y2="259.9" stroke="#e36246" stroke-width="5.2" stroke-linecap="round"/>
<line x1="735.7" y1="259.9" x2="733.2" y2="261.2" stroke="#e46648" stroke-width="5.3" stroke-linecap="round"/>
<line x1="733.2" y1="261.2" x2="730.6" y2="262.4" stroke="#e56949" stroke-width="5.4" stroke-linecap="round"/>
<line x1="730.6" y1="262.4" x2="727.9" y2="263.6" stroke="#e56a4a" stroke-width="5.4" stroke-linecap="round"/>
<line x1="727.9" y1="263.6" x2="725.3" y2="264.8" stroke="#e56949" stroke-width="5.4" stroke-linecap="round"/>
<line x1="725.3" y1="264.8" x2="722.8" y2="266.0" stroke="#e46648" stroke-width="5.3" stroke-linecap="round"/>
<line x1="722.8" y1="266.0" x2="720.4" y2="267.2" stroke="#e36246" stroke-width="5.2" stroke-linecap="round"/>
<line x1="720.4" y1="267.2" x2="718.4" y2="268.4" stroke="#e15c43" stroke-width="5.0" stroke-linecap="round"/>
<line x1="718.4" y1="268.4" x2="716.6" y2="269.6" stroke="#df543f" stroke-width="4.8" stroke-linecap="round"/>
<line x1="716.6" y1="269.6" x2="715.2" y2="270.9" stroke="#dd4b3b" stroke-width="4.6" stroke-linecap="round"/>
<line x1="715.2" y1="270.9" x2="714.2" y2="272.1" stroke="#da4236" stroke-width="4.4" stroke-linecap="round"/>
<line x1="714.2" y1="272.1" x2="713.6" y2="273.3" stroke="#d83831" stroke-width="4.1" stroke-linecap="round"/>
<line x1="713.6" y1="273.3" x2="713.5" y2="274.5" stroke="#d52f2d" stroke-width="3.9" stroke-linecap="round"/>
<line x1="713.5" y1="274.5" x2="713.8" y2="275.7" stroke="#d6322e" stroke-width="4.0" stroke-linecap="round"/>
<line x1="713.8" y1="275.7" x2="714.6" y2="276.9" stroke="#d93c33" stroke-width="4.2" stroke-linecap="round"/>
<line x1="714.6" y1="276.9" x2="715.8" y2="278.1" stroke="#dc4738" stroke-width="4.5" stroke-linecap="round"/>
<line x1="715.8" y1="278.1" x2="717.4" y2="279.3" stroke="#de503d" stroke-width="4.7" stroke-linecap="round"/>
<line x1="717.4" y1="279.3" x2="719.3" y2="280.5" stroke="#e05841" stroke-width="4.9" stroke-linecap="round"/>
<line x1="719.3" y1="280.5" x2="721.5" y2="281.8" stroke="#e25f44" stroke-width="5.1" stroke-linecap="round"/>
<line x1="721.5" y1="281.8" x2="723.9" y2="283.0" stroke="#e36447" stroke-width="5.2" stroke-linecap="round"/>
<line x1="723.9" y1="283.0" x2="726.5" y2="284.2" stroke="#e46849" stroke-width="5.3" stroke-linecap="round"/>
<line x1="726.5" y1="284.2" x2="729.2" y2="285.4" stroke="#e56a4a" stroke-width="5.4" stroke-linecap="round"/>
<line x1="729.2" y1="285.4" x2="731.8" y2="286.6" stroke="#e56a4a" stroke-width="5.4" stroke-linecap="round"/>
<line x1="731.8" y1="286.6" x2="734.4" y2="287.8" stroke="#e46849" stroke-width="5.3" stroke-linecap="round"/>
<line x1="734.4" y1="287.8" x2="736.9" y2="289.0" stroke="#e36447" stroke-width="5.3" stroke-linecap="round"/>
<line x1="736.9" y1="289.0" x2="739.1" y2="290.2" stroke="#e25f45" stroke-width="5.1" stroke-linecap="round"/>
<line x1="739.1" y1="290.2" x2="741.1" y2="291.5" stroke="#e05841" stroke-width="5.0" stroke-linecap="round"/>
<line x1="741.1" y1="291.5" x2="742.7" y2="292.7" stroke="#de503d" stroke-width="4.8" stroke-linecap="round"/>
<line x1="742.7" y1="292.7" x2="743.9" y2="293.9" stroke="#dc4739" stroke-width="4.5" stroke-linecap="round"/>
<line x1="743.9" y1="293.9" x2="744.7" y2="295.1" stroke="#d93d34" stroke-width="4.3" stroke-linecap="round"/>
<line x1="744.7" y1="295.1" x2="745.1" y2="296.3" stroke="#d6332e" stroke-width="4.0" stroke-linecap="round"/>
<line x1="745.1" y1="296.3" x2="745.0" y2="297.5" stroke="#d52f2d" stroke-width="3.9" stroke-linecap="round"/>
<line x1="745.0" y1="297.5" x2="744.5" y2="298.7" stroke="#d73730" stroke-width="4.1" stroke-linecap="round"/>
<line x1="744.5" y1="298.7" x2="743.5" y2="299.9" stroke="#da4135" stroke-width="4.4" stroke-linecap="round"/>
<line x1="743.5" y1="299.9" x2="742.1" y2="301.2" stroke="#dd4b3a" stroke-width="4.6" stroke-linecap="round"/>
<line x1="742.1" y1="301.2" x2="740.4" y2="302.4" stroke="#df533f" stroke-width="4.8" stroke-linecap="round"/>
<line x1="740.4" y1="302.4" x2="738.4" y2="303.6" stroke="#e15b42" stroke-width="5.0" stroke-linecap="round"/>
<line x1="738.4" y1="303.6" x2="736.1" y2="304.8" stroke="#e36146" stroke-width="5.2" stroke-linecap="round"/>
<line x1="736.1" y1="304.8" x2="733.5" y2="306.0" stroke="#e46648" stroke-width="5.3" stroke-linecap="round"/>
<line x1="727.2" y1="194.5" x2="729.9" y2="195.7" stroke="#f7cdb5" stroke-width="2.7" stroke-opacity="0.90"/>
<line x1="729.9" y1="195.7" x2="732.5" y2="196.9" stroke="#f7cdb5" stroke-width="2.7" stroke-opacity="0.90"/>
<line x1="732.5" y1="196.9" x2="735.1" y2="198.1" stroke="#f7cdb5" stroke-width="2.7" stroke-opacity="0.90"/>
<line x1="735.1" y1="198.1" x2="737.5" y2="199.3" stroke="#f7cdb5" stroke-width="2.6" stroke-opacity="0.79"/>
<line x1="737.5" y1="199.3" x2="739.6" y2="200.6" stroke="#f7cdb5" stroke-width="2.5" stroke-opacity="0.61"/>
<line x1="739.6" y1="200.6" x2="741.5" y2="201.8" stroke="#f7cdb5" stroke-width="2.5" stroke-opacity="0.39"/>
<line x1="741.5" y1="201.8" x2="743.0" y2="203.0" stroke="#f7cdb5" stroke-width="2.3" stroke-opacity="0.13"/>
<line x1="743.2" y1="210.3" x2="741.7" y2="211.5" stroke="#f7cdb5" stroke-width="2.3" stroke-opacity="0.09"/>
<line x1="741.7" y1="211.5" x2="739.9" y2="212.7" stroke="#f7cdb5" stroke-width="2.4" stroke-opacity="0.36"/>
<line x1="739.9" y1="212.7" x2="737.8" y2="213.9" stroke="#f7cdb5" stroke-width="2.5" stroke-opacity="0.58"/>
<line x1="737.8" y1="213.9" x2="735.4" y2="215.1" stroke="#f7cdb5" stroke-width="2.6" stroke-opacity="0.77"/>
<line x1="735.4" y1="215.1" x2="732.9" y2="216.3" stroke="#f7cdb5" stroke-width="2.7" stroke-opacity="0.90"/>
<line x1="732.9" y1="216.3" x2="730.2" y2="217.5" stroke="#f7cdb5" stroke-width="2.7" stroke-opacity="0.90"/>
<line x1="730.2" y1="217.5" x2="727.6" y2="218.7" stroke="#f7cdb5" stroke-width="2.7" stroke-opacity="0.90"/>
<line x1="727.6" y1="218.7" x2="724.9" y2="220.0" stroke="#f7cdb5" stroke-width="2.7" stroke-opacity="0.90"/>
<line x1="724.9" y1="220.0" x2="722.4" y2="221.2" stroke="#f7cdb5" stroke-width="2.6" stroke-opacity="0.86"/>
<line x1="722.4" y1="221.2" x2="720.1" y2="222.4" stroke="#f7cdb5" stroke-width="2.6" stroke-opacity="0.72"/>
<line x1="720.1" y1="222.4" x2="718.1" y2="223.6" stroke="#f7cdb5" stroke-width="2.5" stroke-opacity="0.52"/>
<line x1="718.1" y1="223.6" x2="716.4" y2="224.8" stroke="#f7cdb5" stroke-width="2.4" stroke-opacity="0.28"/>
<line x1="716.4" y1="224.8" x2="715.0" y2="226.0" stroke="#f7cdb5" stroke-width="2.3" stroke-opacity="0.01"/>
<line x1="716.0" y1="233.3" x2="717.6" y2="234.5" stroke="#f7cdb5" stroke-width="2.4" stroke-opacity="0.21"/>
<line x1="717.6" y1="234.5" x2="719.6" y2="235.7" stroke="#f7cdb5" stroke-width="2.5" stroke-opacity="0.46"/>
<line x1="719.6" y1="235.7" x2="721.8" y2="236.9" stroke="#f7cdb5" stroke-width="2.6" stroke-opacity="0.67"/>
<line x1="721.8" y1="236.9" x2="724.3" y2="238.1" stroke="#f7cdb5" stroke-width="2.6" stroke-opacity="0.83"/>
<line x1="724.3" y1="238.1" x2="726.9" y2="239.3" stroke="#f7cdb5" stroke-width="2.7" stroke-opacity="0.90"/>
<line x1="726.9" y1="239.3" x2="729.5" y2="240.6" stroke="#f7cdb5" stroke-width="2.7" stroke-opacity="0.90"/>
<line x1="729.5" y1="240.6" x2="732.2" y2="241.8" stroke="#f7cdb5" stroke-width="2.7" stroke-opacity="0.90"/>
<line x1="732.2" y1="241.8" x2="734.8" y2="243.0" stroke="#f7cdb5" stroke-width="2.7" stroke-opacity="0.90"/>
<line x1="734.8" y1="243.0" x2="737.2" y2="244.2" stroke="#f7cdb5" stroke-width="2.6" stroke-opacity="0.81"/>
<line x1="737.2" y1="244.2" x2="739.4" y2="245.4" stroke="#f7cdb5" stroke-width="2.6" stroke-opacity="0.64"/>
<line x1="739.4" y1="245.4" x2="741.3" y2="246.6" stroke="#f7cdb5" stroke-width="2.5" stroke-opacity="0.42"/>
<line x1="741.3" y1="246.6" x2="742.8" y2="247.8" stroke="#f7cdb5" stroke-width="2.4" stroke-opacity="0.17"/>
<line x1="743.4" y1="255.1" x2="741.9" y2="256.3" stroke="#f7cdb5" stroke-width="2.3" stroke-opacity="0.06"/>
<line x1="741.9" y1="256.3" x2="740.2" y2="257.5" stroke="#f7cdb5" stroke-width="2.4" stroke-opacity="0.33"/>
<line x1="740.2" y1="257.5" x2="738.1" y2="258.7" stroke="#f7cdb5" stroke-width="2.5" stroke-opacity="0.56"/>
<line x1="738.1" y1="258.7" x2="735.7" y2="259.9" stroke="#f7cdb5" stroke-width="2.6" stroke-opacity="0.74"/>
<line x1="735.7" y1="259.9" x2="733.2" y2="261.2" stroke="#f7cdb5" stroke-width="2.7" stroke-opacity="0.88"/>
<line x1="733.2" y1="261.2" x2="730.6" y2="262.4" stroke="#f7cdb5" stroke-width="2.7" stroke-opacity="0.90"/>
<line x1="730.6" y1="262.4" x2="727.9" y2="263.6" stroke="#f7cdb5" stroke-width="2.7" stroke-opacity="0.90"/>
<line x1="727.9" y1="263.6" x2="725.3" y2="264.8" stroke="#f7cdb5" stroke-width="2.7" stroke-opacity="0.90"/>
<line x1="725.3" y1="264.8" x2="722.8" y2="266.0" stroke="#f7cdb5" stroke-width="2.7" stroke-opacity="0.88"/>
<line x1="722.8" y1="266.0" x2="720.4" y2="267.2" stroke="#f7cdb5" stroke-width="2.6" stroke-opacity="0.74"/>
<line x1="720.4" y1="267.2" x2="718.4" y2="268.4" stroke="#f7cdb5" stroke-width="2.5" stroke-opacity="0.55"/>
<line x1="718.4" y1="268.4" x2="716.6" y2="269.6" stroke="#f7cdb5" stroke-width="2.4" stroke-opacity="0.32"/>
<line x1="716.6" y1="269.6" x2="715.2" y2="270.9" stroke="#f7cdb5" stroke-width="2.3" stroke-opacity="0.04"/>
<line x1="715.8" y1="278.1" x2="717.4" y2="279.3" stroke="#f7cdb5" stroke-width="2.4" stroke-opacity="0.18"/>
<line x1="717.4" y1="279.3" x2="719.3" y2="280.5" stroke="#f7cdb5" stroke-width="2.5" stroke-opacity="0.43"/>
<line x1="719.3" y1="280.5" x2="721.5" y2="281.8" stroke="#f7cdb5" stroke-width="2.6" stroke-opacity="0.65"/>
<line x1="721.5" y1="281.8" x2="723.9" y2="283.0" stroke="#f7cdb5" stroke-width="2.6" stroke-opacity="0.81"/>
<line x1="723.9" y1="283.0" x2="726.5" y2="284.2" stroke="#f7cdb5" stroke-width="2.7" stroke-opacity="0.90"/>
<line x1="726.5" y1="284.2" x2="729.2" y2="285.4" stroke="#f7cdb5" stroke-width="2.7" stroke-opacity="0.90"/>
<line x1="729.2" y1="285.4" x2="731.8" y2="286.6" stroke="#f7cdb5" stroke-width="2.7" stroke-opacity="0.90"/>
<line x1="731.8" y1="286.6" x2="734.4" y2="287.8" stroke="#f7cdb5" stroke-width="2.7" stroke-opacity="0.90"/>
<line x1="734.4" y1="287.8" x2="736.9" y2="289.0" stroke="#f7cdb5" stroke-width="2.6" stroke-opacity="0.82"/>
<line x1="736.9" y1="289.0" x2="739.1" y2="290.2" stroke="#f7cdb5" stroke-width="2.6" stroke-opacity="0.66"/>
<line x1="739.1" y1="290.2" x2="741.1" y2="291.5" stroke="#f7cdb5" stroke-width="2.5" stroke-opacity="0.45"/>
<line x1="741.1" y1="291.5" x2="742.7" y2="292.7" stroke="#f7cdb5" stroke-width="2.4" stroke-opacity="0.20"/>
<line x1="743.5" y1="299.9" x2="742.1" y2="301.2" stroke="#f7cdb5" stroke-width="2.3" stroke-opacity="0.02"/>
<line x1="742.1" y1="301.2" x2="740.4" y2="302.4" stroke="#f7cdb5" stroke-width="2.4" stroke-opacity="0.29"/>
<line x1="740.4" y1="302.4" x2="738.4" y2="303.6" stroke="#f7cdb5" stroke-width="2.5" stroke-opacity="0.53"/>
<line x1="738.4" y1="303.6" x2="736.1" y2="304.8" stroke="#f7cdb5" stroke-width="2.6" stroke-opacity="0.72"/>
<line x1="736.1" y1="304.8" x2="733.5" y2="306.0" stroke="#f7cdb5" stroke-width="2.6" stroke-opacity="0.87"/>
<path d="M733.5,306.0 Q731.8,322.0 726.0,338.0" fill="none" stroke="#e77b57" stroke-width="4.5" stroke-linecap="round" opacity="0.85"/>
<circle cx="572" cy="158" r="9" fill="url(#yball)"/>
<circle cx="614.3" cy="106.2" r="9.3" fill="url(#subball)"/>
<circle cx="628.8" cy="199" r="18.5" fill="url(#redball)"/>
<line x1="649" y1="177" x2="744" y2="177" stroke="#6b6b6b" stroke-width="2"/>
<text x="487.5" y="111.5" font-size="22.0" font-weight="bold" fill="#141414" textLength="102.5" lengthAdjust="spacingAndGlyphs">substrate</text>
<text x="327.0" y="251.5" font-size="22.0" font-weight="bold" fill="#141414" textLength="170.5" lengthAdjust="spacingAndGlyphs">redox-recycling</text>
<text x="326.3" y="279.3" font-size="22.0" font-weight="bold" fill="#e2182c" textLength="169.5" lengthAdjust="spacingAndGlyphs">electrical signal</text>
<text x="759.3" y="145.7" font-size="22.0" font-weight="bold" fill="#141414" textLength="136.5" lengthAdjust="spacingAndGlyphs">DIG-labelled</text>
<text x="759.3" y="171.3" font-size="22.0" font-weight="bold" fill="#141414" textLength="174.0" lengthAdjust="spacingAndGlyphs">detection probe</text>
<text x="757.4" y="209.0" font-size="22.0" font-weight="bold" fill="#141414" textLength="191.6" lengthAdjust="spacingAndGlyphs">immobilized DNA</text>
<text x="801.4" y="242.0" font-size="22.0" font-weight="bold" fill="#141414" textLength="88.0" lengthAdjust="spacingAndGlyphs">cathode</text>
<text x="447.5" y="471.5" font-size="22.0" font-weight="bold" fill="#141414" textLength="66.7" lengthAdjust="spacingAndGlyphs">anode</text>
<text x="592.5" y="483.0" font-size="22.0" font-weight="bold" fill="#141414" textLength="152.0" lengthAdjust="spacingAndGlyphs">interdigitated</text>
<text x="592.5" y="508.5" font-size="22.0" font-weight="bold" fill="#141414" textLength="229.0" lengthAdjust="spacingAndGlyphs">ultramicroelectrodes</text>
<text x="789" y="458.5" font-size="26" fill="#6a6a6a" textLength="39.5" lengthAdjust="spacingAndGlyphs">EBC</text>
<rect x="369.0" y="566.5" width="464.3" height="373.5" fill="#fdf5f0"/>
<g stroke="#9a9591" stroke-width="1.6" fill="none">
<line x1="368.0" y1="566.5" x2="833.3" y2="566.5"/>
<line x1="369.0" y1="566.5" x2="369.0" y2="948.0"/>
<line x1="369.0" y1="940.0" x2="833.3" y2="940.0"/>
<line x1="833.3" y1="566.5" x2="833.3" y2="948.0"/>
<line x1="369.0" y1="940.0" x2="369.0" y2="947.0"/>
<line x1="427.0" y1="940.0" x2="427.0" y2="944.0"/>
<line x1="485.1" y1="940.0" x2="485.1" y2="947.0"/>
<line x1="543.1" y1="940.0" x2="543.1" y2="944.0"/>
<line x1="601.1" y1="940.0" x2="601.1" y2="947.0"/>
<line x1="659.2" y1="940.0" x2="659.2" y2="944.0"/>
<line x1="717.2" y1="940.0" x2="717.2" y2="947.0"/>
<line x1="775.3" y1="940.0" x2="775.3" y2="944.0"/>
<line x1="833.3" y1="940.0" x2="833.3" y2="947.0"/>
<line x1="369.0" y1="939.0" x2="376.0" y2="939.0"/>
<line x1="369.0" y1="898.5" x2="373.0" y2="898.5"/>
<line x1="369.0" y1="874.8" x2="373.0" y2="874.8"/>
<line x1="369.0" y1="858.0" x2="373.0" y2="858.0"/>
<line x1="369.0" y1="845.0" x2="373.0" y2="845.0"/>
<line x1="369.0" y1="834.3" x2="373.0" y2="834.3"/>
<line x1="369.0" y1="825.3" x2="373.0" y2="825.3"/>
<line x1="369.0" y1="817.5" x2="373.0" y2="817.5"/>
<line x1="369.0" y1="810.7" x2="373.0" y2="810.7"/>
<line x1="369.0" y1="804.5" x2="376.0" y2="804.5"/>
<line x1="369.0" y1="764.0" x2="373.0" y2="764.0"/>
<line x1="369.0" y1="740.3" x2="373.0" y2="740.3"/>
<line x1="369.0" y1="723.5" x2="373.0" y2="723.5"/>
<line x1="369.0" y1="710.5" x2="373.0" y2="710.5"/>
<line x1="369.0" y1="699.8" x2="373.0" y2="699.8"/>
<line x1="369.0" y1="690.8" x2="373.0" y2="690.8"/>
<line x1="369.0" y1="683.0" x2="373.0" y2="683.0"/>
<line x1="369.0" y1="676.2" x2="373.0" y2="676.2"/>
<line x1="369.0" y1="670.0" x2="376.0" y2="670.0"/>
<line x1="369.0" y1="629.5" x2="373.0" y2="629.5"/>
<line x1="369.0" y1="605.8" x2="373.0" y2="605.8"/>
<line x1="369.0" y1="589.0" x2="373.0" y2="589.0"/>
<line x1="369.0" y1="576.0" x2="373.0" y2="576.0"/>
<line x1="825.3" y1="566.5" x2="833.3" y2="566.5"/>
<line x1="828.3" y1="591.4" x2="833.3" y2="591.4"/>
<line x1="825.3" y1="616.3" x2="833.3" y2="616.3"/>
<line x1="828.3" y1="641.2" x2="833.3" y2="641.2"/>
<line x1="825.3" y1="666.1" x2="833.3" y2="666.1"/>
<line x1="828.3" y1="691.0" x2="833.3" y2="691.0"/>
<line x1="825.3" y1="715.9" x2="833.3" y2="715.9"/>
<line x1="828.3" y1="740.8" x2="833.3" y2="740.8"/>
<line x1="825.3" y1="765.7" x2="833.3" y2="765.7"/>
<line x1="828.3" y1="790.6" x2="833.3" y2="790.6"/>
<line x1="825.3" y1="815.5" x2="833.3" y2="815.5"/>
<line x1="828.3" y1="840.4" x2="833.3" y2="840.4"/>
<line x1="825.3" y1="865.3" x2="833.3" y2="865.3"/>
<line x1="828.3" y1="890.2" x2="833.3" y2="890.2"/>
<line x1="825.3" y1="915.1" x2="833.3" y2="915.1"/>
<line x1="828.3" y1="940.0" x2="833.3" y2="940.0"/>
<line x1="920.8" y1="566.5" x2="920.8" y2="940.0"/>
<line x1="913.8" y1="940.0" x2="920.8" y2="940.0"/>
<line x1="916.8" y1="902.6" x2="920.8" y2="902.6"/>
<line x1="913.8" y1="865.3" x2="920.8" y2="865.3"/>
<line x1="916.8" y1="828.0" x2="920.8" y2="828.0"/>
<line x1="913.8" y1="790.6" x2="920.8" y2="790.6"/>
<line x1="916.8" y1="753.2" x2="920.8" y2="753.2"/>
<line x1="913.8" y1="715.9" x2="920.8" y2="715.9"/>
<line x1="916.8" y1="678.5" x2="920.8" y2="678.5"/>
<line x1="913.8" y1="641.2" x2="920.8" y2="641.2"/>
<line x1="916.8" y1="603.8" x2="920.8" y2="603.8"/>
<line x1="913.8" y1="566.5" x2="920.8" y2="566.5"/>
</g>
<rect x="630.3" y="688" width="11.7" height="252" fill="#c6cab7"/>
<rect x="665" y="591.4" width="12" height="348.6" fill="#c6cab7"/>
<rect x="549" y="936.5" width="11" height="3.5" fill="#c6cab7"/>
<polyline points="369.0,846.5 403.6,827.0 438.8,795.3 508.2,747.5 543.4,721.4 555.0,711.8 577.9,685.8 589.5,673.5 601.4,674.2 613.0,672.2 624.2,676.2 636.1,678.0 647.2,680.8 658.9,683.0 671.2,690.4 705.2,700.0 740.6,699.2 775.4,694.4 810.0,695.2" fill="none" stroke="#4d6b82" stroke-width="1.5"/>
<rect x="365.3" y="842.8" width="7.4" height="7.4" fill="#1c3a5e"/>
<rect x="399.9" y="823.3" width="7.4" height="7.4" fill="#1c3a5e"/>
<rect x="435.1" y="791.6" width="7.4" height="7.4" fill="#1c3a5e"/>
<rect x="504.5" y="743.8" width="7.4" height="7.4" fill="#1c3a5e"/>
<rect x="539.7" y="717.7" width="7.4" height="7.4" fill="#1c3a5e"/>
<rect x="551.3" y="708.1" width="7.4" height="7.4" fill="#1c3a5e"/>
<rect x="574.2" y="682.1" width="7.4" height="7.4" fill="#1c3a5e"/>
<rect x="585.8" y="669.8" width="7.4" height="7.4" fill="#1c3a5e"/>
<rect x="597.7" y="670.5" width="7.4" height="7.4" fill="#1c3a5e"/>
<rect x="609.3" y="668.5" width="7.4" height="7.4" fill="#1c3a5e"/>
<rect x="620.5" y="672.5" width="7.4" height="7.4" fill="#1c3a5e"/>
<rect x="632.4" y="674.3" width="7.4" height="7.4" fill="#1c3a5e"/>
<rect x="643.5" y="677.1" width="7.4" height="7.4" fill="#1c3a5e"/>
<rect x="655.2" y="679.3" width="7.4" height="7.4" fill="#1c3a5e"/>
<rect x="667.5" y="686.7" width="7.4" height="7.4" fill="#1c3a5e"/>
<rect x="701.5" y="696.3" width="7.4" height="7.4" fill="#1c3a5e"/>
<rect x="736.9" y="695.5" width="7.4" height="7.4" fill="#1c3a5e"/>
<rect x="771.7" y="690.7" width="7.4" height="7.4" fill="#1c3a5e"/>
<rect x="806.3" y="691.5" width="7.4" height="7.4" fill="#1c3a5e"/>
<polyline points="555.0,909.0 577.8,881.5 589.8,882.0 601.8,880.0 613.2,844.6 625.0,836.5 635.9,730.9 647.1,652.0 659.5,612.8 671.2,593.6 740.6,859.3 810.0,852.2" fill="none" stroke="#f5b86c" stroke-width="1.5"/>
<circle cx="555.0" cy="909.0" r="4.5" fill="#f4a93e"/>
<circle cx="577.8" cy="881.5" r="4.5" fill="#f4a93e"/>
<circle cx="589.8" cy="882.0" r="4.5" fill="#f4a93e"/>
<circle cx="601.8" cy="880.0" r="4.5" fill="#f4a93e"/>
<circle cx="613.2" cy="844.6" r="4.5" fill="#f4a93e"/>
<circle cx="625.0" cy="836.5" r="4.5" fill="#f4a93e"/>
<circle cx="635.9" cy="730.9" r="4.5" fill="#f4a93e"/>
<circle cx="647.1" cy="652.0" r="4.5" fill="#f4a93e"/>
<circle cx="659.5" cy="612.8" r="4.5" fill="#f4a93e"/>
<circle cx="671.2" cy="593.6" r="4.5" fill="#f4a93e"/>
<circle cx="740.6" cy="859.3" r="4.5" fill="#f4a93e"/>
<circle cx="810.0" cy="852.2" r="4.5" fill="#f4a93e"/>
<line x1="400" y1="584" x2="445" y2="584" stroke="#f8d3a8" stroke-width="3"/>
<circle cx="423" cy="584" r="5.2" fill="#f4a93e"/>
<rect x="402" y="601.5" width="43" height="14.2" fill="#c6cab7"/>
<text x="453.0" y="591.5" font-size="20.0" fill="#959595" textLength="41.0" lengthAdjust="spacingAndGlyphs" text-anchor="start" >RT-PCR</text>
<text x="453.0" y="615.5" font-size="20.0" fill="#959595" textLength="22.0" lengthAdjust="spacingAndGlyphs" text-anchor="start" >EBC</text>
<text x="345.6" y="676.5" font-size="20.0" fill="#959595" textLength="4.5" lengthAdjust="spacingAndGlyphs" text-anchor="start" >1</text>
<text x="338.0" y="809.0" font-size="20.0" fill="#959595" textLength="17.5" lengthAdjust="spacingAndGlyphs" text-anchor="start" >0,1</text>
<text x="330.0" y="944.0" font-size="20.0" fill="#959595" textLength="25.7" lengthAdjust="spacingAndGlyphs" text-anchor="start" >0,01</text>
<text x="365.0" y="967.5" font-size="21.0" fill="#959595" textLength="8.0" lengthAdjust="spacingAndGlyphs" text-anchor="start" >0</text>
<text x="473.8" y="967.5" font-size="21.0" fill="#959595" textLength="22.5" lengthAdjust="spacingAndGlyphs" text-anchor="start" >100</text>
<text x="589.9" y="967.5" font-size="21.0" fill="#959595" textLength="22.5" lengthAdjust="spacingAndGlyphs" text-anchor="start" >200</text>
<text x="706.0" y="967.5" font-size="21.0" fill="#959595" textLength="22.5" lengthAdjust="spacingAndGlyphs" text-anchor="start" >300</text>
<text x="822.0" y="967.5" font-size="21.0" fill="#959595" textLength="22.5" lengthAdjust="spacingAndGlyphs" text-anchor="start" >400</text>
<text x="575.5" y="1000.0" font-size="19.0" fill="#959595" textLength="60.5" lengthAdjust="spacingAndGlyphs" text-anchor="start" >time (min)</text>
<text x="841.3" y="573.0" font-size="20.0" fill="#959595" textLength="41.0" lengthAdjust="spacingAndGlyphs" text-anchor="start" >4,0x10</text>
<text x="883.0" y="565.0" font-size="10.0" fill="#959595" textLength="4.5" lengthAdjust="spacingAndGlyphs" text-anchor="start" >8</text>
<text x="841.3" y="622.8" font-size="20.0" fill="#959595" textLength="41.0" lengthAdjust="spacingAndGlyphs" text-anchor="start" >3,5x10</text>
<text x="883.0" y="614.8" font-size="10.0" fill="#959595" textLength="4.5" lengthAdjust="spacingAndGlyphs" text-anchor="start" >8</text>
<text x="841.3" y="672.6" font-size="20.0" fill="#959595" textLength="41.0" lengthAdjust="spacingAndGlyphs" text-anchor="start" >3,0x10</text>
<text x="883.0" y="664.6" font-size="10.0" fill="#959595" textLength="4.5" lengthAdjust="spacingAndGlyphs" text-anchor="start" >8</text>
<text x="841.3" y="722.4" font-size="20.0" fill="#959595" textLength="41.0" lengthAdjust="spacingAndGlyphs" text-anchor="start" >2,5x10</text>
<text x="883.0" y="714.4" font-size="10.0" fill="#959595" textLength="4.5" lengthAdjust="spacingAndGlyphs" text-anchor="start" >8</text>
<text x="841.3" y="772.2" font-size="20.0" fill="#959595" textLength="41.0" lengthAdjust="spacingAndGlyphs" text-anchor="start" >2,0x10</text>
<text x="883.0" y="764.2" font-size="10.0" fill="#959595" textLength="4.5" lengthAdjust="spacingAndGlyphs" text-anchor="start" >8</text>
<text x="841.3" y="822.0" font-size="20.0" fill="#959595" textLength="41.0" lengthAdjust="spacingAndGlyphs" text-anchor="start" >1,5x10</text>
<text x="883.0" y="814.0" font-size="10.0" fill="#959595" textLength="4.5" lengthAdjust="spacingAndGlyphs" text-anchor="start" >8</text>
<text x="841.3" y="871.8" font-size="20.0" fill="#959595" textLength="41.0" lengthAdjust="spacingAndGlyphs" text-anchor="start" >1,0x10</text>
<text x="883.0" y="863.8" font-size="10.0" fill="#959595" textLength="4.5" lengthAdjust="spacingAndGlyphs" text-anchor="start" >8</text>
<text x="841.3" y="921.6" font-size="20.0" fill="#959595" textLength="41.0" lengthAdjust="spacingAndGlyphs" text-anchor="start" >5,0x10</text>
<text x="883.0" y="913.6" font-size="10.0" fill="#959595" textLength="4.5" lengthAdjust="spacingAndGlyphs" text-anchor="start" >7</text>
<text x="927.5" y="946.5" font-size="20.0" fill="#959595" textLength="5.5" lengthAdjust="spacingAndGlyphs" text-anchor="start" >0</text>
<text x="927.5" y="871.8" font-size="20.0" fill="#959595" textLength="5.5" lengthAdjust="spacingAndGlyphs" text-anchor="start" >2</text>
<text x="927.5" y="797.1" font-size="20.0" fill="#959595" textLength="5.5" lengthAdjust="spacingAndGlyphs" text-anchor="start" >4</text>
<text x="927.5" y="722.4" font-size="20.0" fill="#959595" textLength="5.5" lengthAdjust="spacingAndGlyphs" text-anchor="start" >6</text>
<text x="927.5" y="647.7" font-size="20.0" fill="#959595" textLength="5.5" lengthAdjust="spacingAndGlyphs" text-anchor="start" >8</text>
<text x="927.5" y="573.0" font-size="20.0" fill="#959595" textLength="10.5" lengthAdjust="spacingAndGlyphs" text-anchor="start" >10</text>
<text x="0.0" y="0.0" font-size="19.0" fill="#959595" textLength="68.0" lengthAdjust="spacingAndGlyphs" text-anchor="start" transform="translate(333.5,809) rotate(-90)">OD 500 nm</text>
<text x="0.0" y="0.0" font-size="19.0" fill="#959595" textLength="124.0" lengthAdjust="spacingAndGlyphs" text-anchor="start" transform="translate(905,808) rotate(-90)">mRNA / ug total RNA</text>
<text x="0.0" y="0.0" font-size="19.0" fill="#959595" textLength="73.0" lengthAdjust="spacingAndGlyphs" text-anchor="start" transform="translate(953,808) rotate(-90)">current (nA)</text>
<line x1="326.7" y1="821" x2="326.7" y2="865" stroke="#4f6e84" stroke-width="2"/>
<rect x="322.2" y="839" width="9" height="9" fill="#1c3a5e"/>
<line x1="900" y1="823" x2="900" y2="866" stroke="#f8cc94" stroke-width="1.8"/>
<circle cx="900" cy="844" r="6" fill="#f4a93e"/>
<line x1="948" y1="823" x2="948" y2="866" stroke="#7a9ea6" stroke-width="1.8"/>
<polygon points="948,838.5 952.5,848 943.5,848" fill="#1f6b6a"/>
</svg></div>
</body></html>
